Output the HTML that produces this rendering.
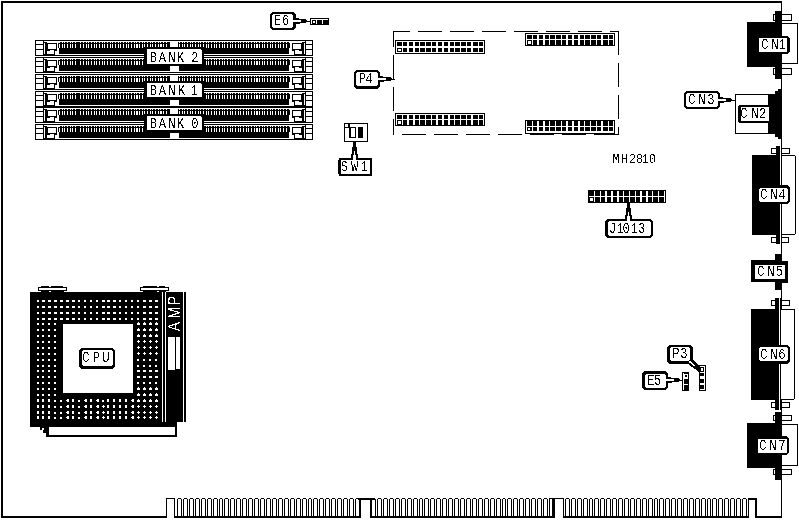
<!DOCTYPE html>
<html lang="en">
<head>
<meta charset="utf-8">
<title>MH2810</title>
<style>
html,body{margin:0;padding:0;background:#fff;}
body{width:799px;height:520px;overflow:hidden;}
svg{display:block;}
</style>
</head>
<body>
<svg width="799" height="520" viewBox="0 0 799 520" shape-rendering="crispEdges">
<defs>
<filter id="bw" x="-5%" y="-20%" width="110%" height="140%" color-interpolation-filters="sRGB"><feComponentTransfer><feFuncA type="discrete" tableValues="0 1"/></feComponentTransfer></filter>
</defs>
<rect x="0" y="0" width="799" height="520" fill="#fff"/>
<rect x="1" y="1" width="2" height="517" fill="#000"/>
<rect x="1" y="1" width="781" height="2" fill="#000"/>
<rect x="781" y="1" width="1" height="517" fill="#000"/>
<rect x="1" y="516" width="166" height="2" fill="#000"/>
<rect x="174" y="516" width="187" height="2" fill="#000"/>
<rect x="370" y="516" width="185" height="2" fill="#000"/>
<rect x="563" y="516" width="186" height="2" fill="#000"/>
<rect x="755" y="516" width="27" height="2" fill="#000"/>
<rect x="166" y="498" width="1" height="20" fill="#000"/>
<rect x="166" y="498" width="9" height="1" fill="#000"/>
<rect x="174" y="498" width="1" height="20" fill="#000"/>
<rect x="359" y="498" width="2" height="20" fill="#000"/>
<rect x="358" y="498" width="17" height="2" fill="#000"/>
<rect x="370" y="498" width="2" height="20" fill="#000"/>
<rect x="552" y="498" width="3" height="20" fill="#000"/>
<rect x="549" y="498" width="15" height="1" fill="#000"/>
<rect x="563" y="498" width="1" height="20" fill="#000"/>
<rect x="748" y="498" width="1" height="20" fill="#000"/>
<rect x="748" y="498" width="9" height="2" fill="#000"/>
<rect x="755" y="498" width="2" height="20" fill="#000"/>
<rect x="177" y="499" width="1" height="17" fill="#000"/>
<rect x="178" y="498" width="3" height="1" fill="#000"/>
<rect x="181" y="499" width="1" height="17" fill="#000"/>
<rect x="183" y="499" width="1" height="17" fill="#000"/>
<rect x="184" y="498" width="3" height="1" fill="#000"/>
<rect x="187" y="499" width="1" height="17" fill="#000"/>
<rect x="189" y="499" width="1" height="17" fill="#000"/>
<rect x="190" y="498" width="3" height="1" fill="#000"/>
<rect x="193" y="499" width="1" height="17" fill="#000"/>
<rect x="195" y="499" width="1" height="17" fill="#000"/>
<rect x="196" y="498" width="3" height="1" fill="#000"/>
<rect x="199" y="499" width="1" height="17" fill="#000"/>
<rect x="201" y="499" width="1" height="17" fill="#000"/>
<rect x="202" y="498" width="3" height="1" fill="#000"/>
<rect x="205" y="499" width="1" height="17" fill="#000"/>
<rect x="207" y="499" width="1" height="17" fill="#000"/>
<rect x="208" y="498" width="3" height="1" fill="#000"/>
<rect x="211" y="499" width="1" height="17" fill="#000"/>
<rect x="213" y="499" width="1" height="17" fill="#000"/>
<rect x="214" y="498" width="3" height="1" fill="#000"/>
<rect x="217" y="499" width="1" height="17" fill="#000"/>
<rect x="219" y="499" width="1" height="17" fill="#000"/>
<rect x="220" y="498" width="2" height="1" fill="#000"/>
<rect x="222" y="499" width="1" height="17" fill="#000"/>
<rect x="224" y="499" width="1" height="17" fill="#000"/>
<rect x="225" y="498" width="3" height="1" fill="#000"/>
<rect x="228" y="499" width="1" height="17" fill="#000"/>
<rect x="230" y="499" width="1" height="17" fill="#000"/>
<rect x="231" y="498" width="3" height="1" fill="#000"/>
<rect x="234" y="499" width="1" height="17" fill="#000"/>
<rect x="236" y="499" width="1" height="17" fill="#000"/>
<rect x="237" y="498" width="3" height="1" fill="#000"/>
<rect x="240" y="499" width="1" height="17" fill="#000"/>
<rect x="242" y="499" width="1" height="17" fill="#000"/>
<rect x="243" y="498" width="3" height="1" fill="#000"/>
<rect x="246" y="499" width="1" height="17" fill="#000"/>
<rect x="248" y="499" width="1" height="17" fill="#000"/>
<rect x="249" y="498" width="3" height="1" fill="#000"/>
<rect x="252" y="499" width="1" height="17" fill="#000"/>
<rect x="254" y="499" width="1" height="17" fill="#000"/>
<rect x="255" y="498" width="3" height="1" fill="#000"/>
<rect x="258" y="499" width="1" height="17" fill="#000"/>
<rect x="260" y="499" width="1" height="17" fill="#000"/>
<rect x="261" y="498" width="3" height="1" fill="#000"/>
<rect x="264" y="499" width="1" height="17" fill="#000"/>
<rect x="266" y="499" width="1" height="17" fill="#000"/>
<rect x="267" y="498" width="3" height="1" fill="#000"/>
<rect x="270" y="499" width="1" height="17" fill="#000"/>
<rect x="272" y="499" width="1" height="17" fill="#000"/>
<rect x="273" y="498" width="3" height="1" fill="#000"/>
<rect x="276" y="499" width="1" height="17" fill="#000"/>
<rect x="278" y="499" width="1" height="17" fill="#000"/>
<rect x="279" y="498" width="3" height="1" fill="#000"/>
<rect x="282" y="499" width="1" height="17" fill="#000"/>
<rect x="284" y="499" width="1" height="17" fill="#000"/>
<rect x="285" y="498" width="3" height="1" fill="#000"/>
<rect x="288" y="499" width="1" height="17" fill="#000"/>
<rect x="290" y="499" width="1" height="17" fill="#000"/>
<rect x="291" y="498" width="3" height="1" fill="#000"/>
<rect x="294" y="499" width="1" height="17" fill="#000"/>
<rect x="296" y="499" width="1" height="17" fill="#000"/>
<rect x="297" y="498" width="3" height="1" fill="#000"/>
<rect x="300" y="499" width="1" height="17" fill="#000"/>
<rect x="302" y="499" width="1" height="17" fill="#000"/>
<rect x="303" y="498" width="3" height="1" fill="#000"/>
<rect x="306" y="499" width="1" height="17" fill="#000"/>
<rect x="308" y="499" width="1" height="17" fill="#000"/>
<rect x="309" y="498" width="2" height="1" fill="#000"/>
<rect x="311" y="499" width="1" height="17" fill="#000"/>
<rect x="313" y="499" width="1" height="17" fill="#000"/>
<rect x="314" y="498" width="3" height="1" fill="#000"/>
<rect x="317" y="499" width="1" height="17" fill="#000"/>
<rect x="319" y="499" width="1" height="17" fill="#000"/>
<rect x="320" y="498" width="3" height="1" fill="#000"/>
<rect x="323" y="499" width="1" height="17" fill="#000"/>
<rect x="325" y="499" width="1" height="17" fill="#000"/>
<rect x="326" y="498" width="3" height="1" fill="#000"/>
<rect x="329" y="499" width="1" height="17" fill="#000"/>
<rect x="331" y="499" width="1" height="17" fill="#000"/>
<rect x="332" y="498" width="3" height="1" fill="#000"/>
<rect x="335" y="499" width="1" height="17" fill="#000"/>
<rect x="337" y="499" width="1" height="17" fill="#000"/>
<rect x="338" y="498" width="3" height="1" fill="#000"/>
<rect x="341" y="499" width="1" height="17" fill="#000"/>
<rect x="343" y="499" width="1" height="17" fill="#000"/>
<rect x="344" y="498" width="3" height="1" fill="#000"/>
<rect x="347" y="499" width="1" height="17" fill="#000"/>
<rect x="349" y="499" width="1" height="17" fill="#000"/>
<rect x="350" y="498" width="3" height="1" fill="#000"/>
<rect x="353" y="499" width="1" height="17" fill="#000"/>
<rect x="355" y="499" width="1" height="17" fill="#000"/>
<rect x="356" y="498" width="3" height="1" fill="#000"/>
<rect x="359" y="499" width="1" height="17" fill="#000"/>
<rect x="371" y="499" width="1" height="17" fill="#000"/>
<rect x="372" y="498" width="3" height="1" fill="#000"/>
<rect x="375" y="499" width="1" height="17" fill="#000"/>
<rect x="377" y="499" width="1" height="17" fill="#000"/>
<rect x="378" y="498" width="3" height="1" fill="#000"/>
<rect x="381" y="499" width="1" height="17" fill="#000"/>
<rect x="383" y="499" width="1" height="17" fill="#000"/>
<rect x="384" y="498" width="3" height="1" fill="#000"/>
<rect x="387" y="499" width="1" height="17" fill="#000"/>
<rect x="389" y="499" width="1" height="17" fill="#000"/>
<rect x="390" y="498" width="3" height="1" fill="#000"/>
<rect x="393" y="499" width="1" height="17" fill="#000"/>
<rect x="395" y="499" width="1" height="17" fill="#000"/>
<rect x="396" y="498" width="3" height="1" fill="#000"/>
<rect x="399" y="499" width="1" height="17" fill="#000"/>
<rect x="401" y="499" width="1" height="17" fill="#000"/>
<rect x="402" y="498" width="3" height="1" fill="#000"/>
<rect x="405" y="499" width="1" height="17" fill="#000"/>
<rect x="407" y="499" width="1" height="17" fill="#000"/>
<rect x="408" y="498" width="3" height="1" fill="#000"/>
<rect x="411" y="499" width="1" height="17" fill="#000"/>
<rect x="413" y="499" width="1" height="17" fill="#000"/>
<rect x="414" y="498" width="3" height="1" fill="#000"/>
<rect x="417" y="499" width="1" height="17" fill="#000"/>
<rect x="419" y="499" width="1" height="17" fill="#000"/>
<rect x="420" y="498" width="2" height="1" fill="#000"/>
<rect x="422" y="499" width="1" height="17" fill="#000"/>
<rect x="424" y="499" width="1" height="17" fill="#000"/>
<rect x="425" y="498" width="3" height="1" fill="#000"/>
<rect x="428" y="499" width="1" height="17" fill="#000"/>
<rect x="430" y="499" width="1" height="17" fill="#000"/>
<rect x="431" y="498" width="3" height="1" fill="#000"/>
<rect x="434" y="499" width="1" height="17" fill="#000"/>
<rect x="436" y="499" width="1" height="17" fill="#000"/>
<rect x="437" y="498" width="3" height="1" fill="#000"/>
<rect x="440" y="499" width="1" height="17" fill="#000"/>
<rect x="442" y="499" width="1" height="17" fill="#000"/>
<rect x="443" y="498" width="3" height="1" fill="#000"/>
<rect x="446" y="499" width="1" height="17" fill="#000"/>
<rect x="448" y="499" width="1" height="17" fill="#000"/>
<rect x="449" y="498" width="3" height="1" fill="#000"/>
<rect x="452" y="499" width="1" height="17" fill="#000"/>
<rect x="454" y="499" width="1" height="17" fill="#000"/>
<rect x="455" y="498" width="3" height="1" fill="#000"/>
<rect x="458" y="499" width="1" height="17" fill="#000"/>
<rect x="460" y="499" width="1" height="17" fill="#000"/>
<rect x="461" y="498" width="3" height="1" fill="#000"/>
<rect x="464" y="499" width="1" height="17" fill="#000"/>
<rect x="466" y="499" width="1" height="17" fill="#000"/>
<rect x="467" y="498" width="3" height="1" fill="#000"/>
<rect x="470" y="499" width="1" height="17" fill="#000"/>
<rect x="472" y="499" width="1" height="17" fill="#000"/>
<rect x="473" y="498" width="3" height="1" fill="#000"/>
<rect x="476" y="499" width="1" height="17" fill="#000"/>
<rect x="478" y="499" width="1" height="17" fill="#000"/>
<rect x="479" y="498" width="3" height="1" fill="#000"/>
<rect x="482" y="499" width="1" height="17" fill="#000"/>
<rect x="484" y="499" width="1" height="17" fill="#000"/>
<rect x="485" y="498" width="3" height="1" fill="#000"/>
<rect x="488" y="499" width="1" height="17" fill="#000"/>
<rect x="490" y="499" width="1" height="17" fill="#000"/>
<rect x="491" y="498" width="3" height="1" fill="#000"/>
<rect x="494" y="499" width="1" height="17" fill="#000"/>
<rect x="496" y="499" width="1" height="17" fill="#000"/>
<rect x="497" y="498" width="3" height="1" fill="#000"/>
<rect x="500" y="499" width="1" height="17" fill="#000"/>
<rect x="502" y="499" width="1" height="17" fill="#000"/>
<rect x="503" y="498" width="2" height="1" fill="#000"/>
<rect x="505" y="499" width="1" height="17" fill="#000"/>
<rect x="507" y="499" width="1" height="17" fill="#000"/>
<rect x="508" y="498" width="3" height="1" fill="#000"/>
<rect x="511" y="499" width="1" height="17" fill="#000"/>
<rect x="513" y="499" width="1" height="17" fill="#000"/>
<rect x="514" y="498" width="3" height="1" fill="#000"/>
<rect x="517" y="499" width="1" height="17" fill="#000"/>
<rect x="519" y="499" width="1" height="17" fill="#000"/>
<rect x="520" y="498" width="3" height="1" fill="#000"/>
<rect x="523" y="499" width="1" height="17" fill="#000"/>
<rect x="525" y="499" width="1" height="17" fill="#000"/>
<rect x="526" y="498" width="3" height="1" fill="#000"/>
<rect x="529" y="499" width="1" height="17" fill="#000"/>
<rect x="531" y="499" width="1" height="17" fill="#000"/>
<rect x="532" y="498" width="3" height="1" fill="#000"/>
<rect x="535" y="499" width="1" height="17" fill="#000"/>
<rect x="537" y="499" width="1" height="17" fill="#000"/>
<rect x="538" y="498" width="3" height="1" fill="#000"/>
<rect x="541" y="499" width="1" height="17" fill="#000"/>
<rect x="543" y="499" width="1" height="17" fill="#000"/>
<rect x="544" y="498" width="3" height="1" fill="#000"/>
<rect x="547" y="499" width="1" height="17" fill="#000"/>
<rect x="549" y="499" width="1" height="17" fill="#000"/>
<rect x="550" y="498" width="3" height="1" fill="#000"/>
<rect x="553" y="499" width="1" height="17" fill="#000"/>
<rect x="565" y="499" width="1" height="17" fill="#000"/>
<rect x="566" y="498" width="3" height="1" fill="#000"/>
<rect x="569" y="499" width="1" height="17" fill="#000"/>
<rect x="571" y="499" width="1" height="17" fill="#000"/>
<rect x="572" y="498" width="3" height="1" fill="#000"/>
<rect x="575" y="499" width="1" height="17" fill="#000"/>
<rect x="577" y="499" width="1" height="17" fill="#000"/>
<rect x="578" y="498" width="3" height="1" fill="#000"/>
<rect x="581" y="499" width="1" height="17" fill="#000"/>
<rect x="583" y="499" width="1" height="17" fill="#000"/>
<rect x="584" y="498" width="3" height="1" fill="#000"/>
<rect x="587" y="499" width="1" height="17" fill="#000"/>
<rect x="589" y="499" width="1" height="17" fill="#000"/>
<rect x="590" y="498" width="2" height="1" fill="#000"/>
<rect x="592" y="499" width="1" height="17" fill="#000"/>
<rect x="594" y="499" width="1" height="17" fill="#000"/>
<rect x="595" y="498" width="3" height="1" fill="#000"/>
<rect x="598" y="499" width="1" height="17" fill="#000"/>
<rect x="600" y="499" width="1" height="17" fill="#000"/>
<rect x="601" y="498" width="3" height="1" fill="#000"/>
<rect x="604" y="499" width="1" height="17" fill="#000"/>
<rect x="606" y="499" width="1" height="17" fill="#000"/>
<rect x="607" y="498" width="3" height="1" fill="#000"/>
<rect x="610" y="499" width="1" height="17" fill="#000"/>
<rect x="612" y="499" width="1" height="17" fill="#000"/>
<rect x="613" y="498" width="3" height="1" fill="#000"/>
<rect x="616" y="499" width="1" height="17" fill="#000"/>
<rect x="618" y="499" width="1" height="17" fill="#000"/>
<rect x="619" y="498" width="3" height="1" fill="#000"/>
<rect x="622" y="499" width="1" height="17" fill="#000"/>
<rect x="624" y="499" width="1" height="17" fill="#000"/>
<rect x="625" y="498" width="3" height="1" fill="#000"/>
<rect x="628" y="499" width="1" height="17" fill="#000"/>
<rect x="630" y="499" width="1" height="17" fill="#000"/>
<rect x="631" y="498" width="3" height="1" fill="#000"/>
<rect x="634" y="499" width="1" height="17" fill="#000"/>
<rect x="636" y="499" width="1" height="17" fill="#000"/>
<rect x="637" y="498" width="3" height="1" fill="#000"/>
<rect x="640" y="499" width="1" height="17" fill="#000"/>
<rect x="642" y="499" width="1" height="17" fill="#000"/>
<rect x="643" y="498" width="3" height="1" fill="#000"/>
<rect x="646" y="499" width="1" height="17" fill="#000"/>
<rect x="648" y="499" width="1" height="17" fill="#000"/>
<rect x="649" y="498" width="3" height="1" fill="#000"/>
<rect x="652" y="499" width="1" height="17" fill="#000"/>
<rect x="654" y="499" width="1" height="17" fill="#000"/>
<rect x="655" y="498" width="2" height="1" fill="#000"/>
<rect x="657" y="499" width="1" height="17" fill="#000"/>
<rect x="659" y="499" width="1" height="17" fill="#000"/>
<rect x="660" y="498" width="3" height="1" fill="#000"/>
<rect x="663" y="499" width="1" height="17" fill="#000"/>
<rect x="665" y="499" width="1" height="17" fill="#000"/>
<rect x="666" y="498" width="3" height="1" fill="#000"/>
<rect x="669" y="499" width="1" height="17" fill="#000"/>
<rect x="671" y="499" width="1" height="17" fill="#000"/>
<rect x="672" y="498" width="3" height="1" fill="#000"/>
<rect x="675" y="499" width="1" height="17" fill="#000"/>
<rect x="677" y="499" width="1" height="17" fill="#000"/>
<rect x="678" y="498" width="3" height="1" fill="#000"/>
<rect x="681" y="499" width="1" height="17" fill="#000"/>
<rect x="683" y="499" width="1" height="17" fill="#000"/>
<rect x="684" y="498" width="3" height="1" fill="#000"/>
<rect x="687" y="499" width="1" height="17" fill="#000"/>
<rect x="689" y="499" width="1" height="17" fill="#000"/>
<rect x="690" y="498" width="3" height="1" fill="#000"/>
<rect x="693" y="499" width="1" height="17" fill="#000"/>
<rect x="695" y="499" width="1" height="17" fill="#000"/>
<rect x="696" y="498" width="3" height="1" fill="#000"/>
<rect x="699" y="499" width="1" height="17" fill="#000"/>
<rect x="701" y="499" width="1" height="17" fill="#000"/>
<rect x="702" y="498" width="3" height="1" fill="#000"/>
<rect x="705" y="499" width="1" height="17" fill="#000"/>
<rect x="707" y="499" width="1" height="17" fill="#000"/>
<rect x="708" y="498" width="2" height="1" fill="#000"/>
<rect x="710" y="499" width="1" height="17" fill="#000"/>
<rect x="712" y="499" width="1" height="17" fill="#000"/>
<rect x="713" y="498" width="3" height="1" fill="#000"/>
<rect x="716" y="499" width="1" height="17" fill="#000"/>
<rect x="718" y="499" width="1" height="17" fill="#000"/>
<rect x="719" y="498" width="3" height="1" fill="#000"/>
<rect x="722" y="499" width="1" height="17" fill="#000"/>
<rect x="724" y="499" width="1" height="17" fill="#000"/>
<rect x="725" y="498" width="3" height="1" fill="#000"/>
<rect x="728" y="499" width="1" height="17" fill="#000"/>
<rect x="730" y="499" width="1" height="17" fill="#000"/>
<rect x="731" y="498" width="3" height="1" fill="#000"/>
<rect x="734" y="499" width="1" height="17" fill="#000"/>
<rect x="736" y="499" width="1" height="17" fill="#000"/>
<rect x="737" y="498" width="3" height="1" fill="#000"/>
<rect x="740" y="499" width="1" height="17" fill="#000"/>
<rect x="742" y="499" width="1" height="17" fill="#000"/>
<rect x="743" y="498" width="3" height="1" fill="#000"/>
<rect x="746" y="499" width="1" height="17" fill="#000"/>
<rect x="35" y="40" width="278" height="16" fill="#000"/>
<rect x="36" y="41" width="276" height="14" fill="#fff"/>
<rect x="43" y="40" width="1" height="16" fill="#000"/>
<rect x="36" y="44" width="7" height="1" fill="#000"/>
<rect x="36" y="49" width="7" height="1" fill="#000"/>
<rect x="44" y="42" width="3" height="1" fill="#000"/>
<rect x="45" y="42" width="2" height="13" fill="#000"/>
<rect x="44" y="54" width="3" height="1" fill="#000"/>
<rect x="47" y="43" width="10" height="8" fill="#000"/>
<rect x="48" y="44" width="8" height="5" fill="#fff"/>
<rect x="47" y="49" width="8" height="6" fill="#000"/>
<rect x="50" y="50" width="4" height="1" fill="#fff"/>
<rect x="47" y="51" width="7" height="3" fill="#fff"/>
<rect x="305" y="40" width="1" height="16" fill="#000"/>
<rect x="306" y="44" width="7" height="1" fill="#000"/>
<rect x="306" y="49" width="7" height="1" fill="#000"/>
<rect x="302" y="42" width="3" height="1" fill="#000"/>
<rect x="302" y="42" width="2" height="13" fill="#000"/>
<rect x="302" y="54" width="3" height="1" fill="#000"/>
<rect x="292" y="43" width="10" height="8" fill="#000"/>
<rect x="293" y="44" width="8" height="5" fill="#fff"/>
<rect x="294" y="49" width="8" height="6" fill="#000"/>
<rect x="295" y="50" width="4" height="1" fill="#fff"/>
<rect x="295" y="51" width="7" height="3" fill="#fff"/>
<rect x="58" y="43" width="232" height="5" fill="#000"/>
<rect x="60" y="42" width="229" height="1" fill="#000"/>
<rect x="59" y="48" width="230" height="6" fill="#000"/>
<rect x="59" y="44" width="1" height="4" fill="#fff"/>
<rect x="59" y="42" width="1" height="1" fill="#fff"/>
<rect x="62" y="44" width="1" height="4" fill="#fff"/>
<rect x="62" y="42" width="1" height="1" fill="#fff"/>
<rect x="64" y="44" width="1" height="4" fill="#fff"/>
<rect x="64" y="42" width="1" height="1" fill="#fff"/>
<rect x="67" y="44" width="1" height="4" fill="#fff"/>
<rect x="67" y="42" width="1" height="1" fill="#fff"/>
<rect x="70" y="44" width="1" height="4" fill="#fff"/>
<rect x="70" y="42" width="1" height="1" fill="#fff"/>
<rect x="72" y="44" width="1" height="4" fill="#fff"/>
<rect x="72" y="42" width="1" height="1" fill="#fff"/>
<rect x="75" y="44" width="1" height="4" fill="#fff"/>
<rect x="75" y="42" width="1" height="1" fill="#fff"/>
<rect x="80" y="44" width="1" height="4" fill="#fff"/>
<rect x="80" y="42" width="1" height="1" fill="#fff"/>
<rect x="83" y="44" width="1" height="4" fill="#fff"/>
<rect x="83" y="42" width="1" height="1" fill="#fff"/>
<rect x="86" y="44" width="1" height="4" fill="#fff"/>
<rect x="86" y="42" width="1" height="1" fill="#fff"/>
<rect x="88" y="44" width="1" height="4" fill="#fff"/>
<rect x="88" y="42" width="1" height="1" fill="#fff"/>
<rect x="91" y="44" width="1" height="4" fill="#fff"/>
<rect x="91" y="42" width="1" height="1" fill="#fff"/>
<rect x="94" y="44" width="1" height="4" fill="#fff"/>
<rect x="94" y="42" width="1" height="1" fill="#fff"/>
<rect x="96" y="44" width="1" height="4" fill="#fff"/>
<rect x="96" y="42" width="1" height="1" fill="#fff"/>
<rect x="99" y="44" width="1" height="4" fill="#fff"/>
<rect x="99" y="42" width="1" height="1" fill="#fff"/>
<rect x="102" y="44" width="1" height="4" fill="#fff"/>
<rect x="102" y="42" width="1" height="1" fill="#fff"/>
<rect x="104" y="44" width="1" height="4" fill="#fff"/>
<rect x="104" y="42" width="1" height="1" fill="#fff"/>
<rect x="107" y="44" width="1" height="4" fill="#fff"/>
<rect x="107" y="42" width="1" height="1" fill="#fff"/>
<rect x="110" y="44" width="1" height="4" fill="#fff"/>
<rect x="110" y="42" width="1" height="1" fill="#fff"/>
<rect x="112" y="44" width="1" height="4" fill="#fff"/>
<rect x="112" y="42" width="1" height="1" fill="#fff"/>
<rect x="115" y="44" width="1" height="4" fill="#fff"/>
<rect x="115" y="42" width="1" height="1" fill="#fff"/>
<rect x="118" y="44" width="1" height="4" fill="#fff"/>
<rect x="118" y="42" width="1" height="1" fill="#fff"/>
<rect x="120" y="44" width="1" height="4" fill="#fff"/>
<rect x="120" y="42" width="1" height="1" fill="#fff"/>
<rect x="123" y="44" width="1" height="4" fill="#fff"/>
<rect x="123" y="42" width="1" height="1" fill="#fff"/>
<rect x="126" y="44" width="1" height="4" fill="#fff"/>
<rect x="126" y="42" width="1" height="1" fill="#fff"/>
<rect x="128" y="44" width="1" height="4" fill="#fff"/>
<rect x="128" y="42" width="1" height="1" fill="#fff"/>
<rect x="131" y="44" width="1" height="4" fill="#fff"/>
<rect x="131" y="42" width="1" height="1" fill="#fff"/>
<rect x="134" y="44" width="1" height="4" fill="#fff"/>
<rect x="134" y="42" width="1" height="1" fill="#fff"/>
<rect x="136" y="44" width="2" height="4" fill="#fff"/>
<rect x="136" y="42" width="1" height="1" fill="#fff"/>
<rect x="139" y="44" width="1" height="4" fill="#fff"/>
<rect x="139" y="42" width="1" height="1" fill="#fff"/>
<rect x="142" y="44" width="1" height="4" fill="#fff"/>
<rect x="142" y="42" width="1" height="1" fill="#fff"/>
<rect x="144" y="44" width="1" height="4" fill="#fff"/>
<rect x="144" y="42" width="1" height="1" fill="#fff"/>
<rect x="147" y="44" width="1" height="4" fill="#fff"/>
<rect x="147" y="42" width="1" height="1" fill="#fff"/>
<rect x="150" y="44" width="1" height="4" fill="#fff"/>
<rect x="150" y="42" width="1" height="1" fill="#fff"/>
<rect x="152" y="44" width="1" height="4" fill="#fff"/>
<rect x="152" y="42" width="1" height="1" fill="#fff"/>
<rect x="155" y="44" width="1" height="4" fill="#fff"/>
<rect x="155" y="42" width="1" height="1" fill="#fff"/>
<rect x="158" y="44" width="1" height="4" fill="#fff"/>
<rect x="158" y="42" width="1" height="1" fill="#fff"/>
<rect x="160" y="44" width="2" height="4" fill="#fff"/>
<rect x="160" y="42" width="1" height="1" fill="#fff"/>
<rect x="163" y="44" width="1" height="4" fill="#fff"/>
<rect x="163" y="42" width="1" height="1" fill="#fff"/>
<rect x="166" y="44" width="1" height="4" fill="#fff"/>
<rect x="166" y="42" width="1" height="1" fill="#fff"/>
<rect x="179" y="44" width="1" height="4" fill="#fff"/>
<rect x="179" y="42" width="1" height="1" fill="#fff"/>
<rect x="182" y="44" width="1" height="4" fill="#fff"/>
<rect x="182" y="42" width="1" height="1" fill="#fff"/>
<rect x="184" y="44" width="1" height="4" fill="#fff"/>
<rect x="184" y="42" width="1" height="1" fill="#fff"/>
<rect x="187" y="44" width="1" height="4" fill="#fff"/>
<rect x="187" y="42" width="1" height="1" fill="#fff"/>
<rect x="190" y="44" width="1" height="4" fill="#fff"/>
<rect x="190" y="42" width="1" height="1" fill="#fff"/>
<rect x="192" y="44" width="1" height="4" fill="#fff"/>
<rect x="192" y="42" width="1" height="1" fill="#fff"/>
<rect x="195" y="44" width="1" height="4" fill="#fff"/>
<rect x="195" y="42" width="1" height="1" fill="#fff"/>
<rect x="198" y="44" width="1" height="4" fill="#fff"/>
<rect x="198" y="42" width="1" height="1" fill="#fff"/>
<rect x="200" y="44" width="1" height="4" fill="#fff"/>
<rect x="200" y="42" width="1" height="1" fill="#fff"/>
<rect x="203" y="44" width="1" height="4" fill="#fff"/>
<rect x="203" y="42" width="1" height="1" fill="#fff"/>
<rect x="206" y="44" width="1" height="4" fill="#fff"/>
<rect x="206" y="42" width="1" height="1" fill="#fff"/>
<rect x="208" y="44" width="1" height="4" fill="#fff"/>
<rect x="208" y="42" width="1" height="1" fill="#fff"/>
<rect x="211" y="44" width="1" height="4" fill="#fff"/>
<rect x="211" y="42" width="1" height="1" fill="#fff"/>
<rect x="214" y="44" width="1" height="4" fill="#fff"/>
<rect x="214" y="42" width="1" height="1" fill="#fff"/>
<rect x="216" y="44" width="1" height="4" fill="#fff"/>
<rect x="216" y="42" width="1" height="1" fill="#fff"/>
<rect x="219" y="44" width="1" height="4" fill="#fff"/>
<rect x="219" y="42" width="1" height="1" fill="#fff"/>
<rect x="222" y="44" width="1" height="4" fill="#fff"/>
<rect x="222" y="42" width="1" height="1" fill="#fff"/>
<rect x="224" y="44" width="1" height="4" fill="#fff"/>
<rect x="224" y="42" width="1" height="1" fill="#fff"/>
<rect x="227" y="44" width="1" height="4" fill="#fff"/>
<rect x="227" y="42" width="1" height="1" fill="#fff"/>
<rect x="230" y="44" width="1" height="4" fill="#fff"/>
<rect x="230" y="42" width="1" height="1" fill="#fff"/>
<rect x="232" y="44" width="1" height="4" fill="#fff"/>
<rect x="232" y="42" width="1" height="1" fill="#fff"/>
<rect x="235" y="44" width="1" height="4" fill="#fff"/>
<rect x="235" y="42" width="1" height="1" fill="#fff"/>
<rect x="238" y="44" width="1" height="4" fill="#fff"/>
<rect x="238" y="42" width="1" height="1" fill="#fff"/>
<rect x="240" y="44" width="1" height="4" fill="#fff"/>
<rect x="240" y="42" width="1" height="1" fill="#fff"/>
<rect x="243" y="44" width="1" height="4" fill="#fff"/>
<rect x="243" y="42" width="1" height="1" fill="#fff"/>
<rect x="246" y="44" width="1" height="4" fill="#fff"/>
<rect x="246" y="42" width="1" height="1" fill="#fff"/>
<rect x="248" y="44" width="1" height="4" fill="#fff"/>
<rect x="248" y="42" width="1" height="1" fill="#fff"/>
<rect x="251" y="44" width="1" height="4" fill="#fff"/>
<rect x="251" y="42" width="1" height="1" fill="#fff"/>
<rect x="254" y="44" width="1" height="4" fill="#fff"/>
<rect x="254" y="42" width="1" height="1" fill="#fff"/>
<rect x="256" y="44" width="2" height="4" fill="#fff"/>
<rect x="256" y="42" width="1" height="1" fill="#fff"/>
<rect x="259" y="44" width="1" height="4" fill="#fff"/>
<rect x="259" y="42" width="1" height="1" fill="#fff"/>
<rect x="262" y="44" width="1" height="4" fill="#fff"/>
<rect x="262" y="42" width="1" height="1" fill="#fff"/>
<rect x="264" y="44" width="1" height="4" fill="#fff"/>
<rect x="264" y="42" width="1" height="1" fill="#fff"/>
<rect x="267" y="44" width="1" height="4" fill="#fff"/>
<rect x="267" y="42" width="1" height="1" fill="#fff"/>
<rect x="270" y="44" width="1" height="4" fill="#fff"/>
<rect x="270" y="42" width="1" height="1" fill="#fff"/>
<rect x="272" y="44" width="1" height="4" fill="#fff"/>
<rect x="272" y="42" width="1" height="1" fill="#fff"/>
<rect x="275" y="44" width="1" height="4" fill="#fff"/>
<rect x="275" y="42" width="1" height="1" fill="#fff"/>
<rect x="278" y="44" width="1" height="4" fill="#fff"/>
<rect x="278" y="42" width="1" height="1" fill="#fff"/>
<rect x="280" y="44" width="1" height="4" fill="#fff"/>
<rect x="280" y="42" width="1" height="1" fill="#fff"/>
<rect x="283" y="44" width="1" height="4" fill="#fff"/>
<rect x="283" y="42" width="1" height="1" fill="#fff"/>
<rect x="286" y="44" width="1" height="4" fill="#fff"/>
<rect x="286" y="42" width="1" height="1" fill="#fff"/>
<rect x="170" y="42" width="8" height="5" fill="#fff"/>
<rect x="170" y="49" width="9" height="5" fill="#fff"/>
<rect x="35" y="57" width="278" height="16" fill="#000"/>
<rect x="36" y="58" width="276" height="14" fill="#fff"/>
<rect x="43" y="57" width="1" height="16" fill="#000"/>
<rect x="36" y="61" width="7" height="1" fill="#000"/>
<rect x="36" y="66" width="7" height="1" fill="#000"/>
<rect x="44" y="59" width="3" height="1" fill="#000"/>
<rect x="45" y="59" width="2" height="13" fill="#000"/>
<rect x="44" y="71" width="3" height="1" fill="#000"/>
<rect x="47" y="60" width="10" height="8" fill="#000"/>
<rect x="48" y="61" width="8" height="5" fill="#fff"/>
<rect x="47" y="66" width="8" height="6" fill="#000"/>
<rect x="50" y="67" width="4" height="1" fill="#fff"/>
<rect x="47" y="68" width="7" height="3" fill="#fff"/>
<rect x="305" y="57" width="1" height="16" fill="#000"/>
<rect x="306" y="61" width="7" height="1" fill="#000"/>
<rect x="306" y="66" width="7" height="1" fill="#000"/>
<rect x="302" y="59" width="3" height="1" fill="#000"/>
<rect x="302" y="59" width="2" height="13" fill="#000"/>
<rect x="302" y="71" width="3" height="1" fill="#000"/>
<rect x="292" y="60" width="10" height="8" fill="#000"/>
<rect x="293" y="61" width="8" height="5" fill="#fff"/>
<rect x="294" y="66" width="8" height="6" fill="#000"/>
<rect x="295" y="67" width="4" height="1" fill="#fff"/>
<rect x="295" y="68" width="7" height="3" fill="#fff"/>
<rect x="58" y="60" width="232" height="5" fill="#000"/>
<rect x="60" y="59" width="229" height="1" fill="#000"/>
<rect x="59" y="65" width="230" height="6" fill="#000"/>
<rect x="59" y="61" width="1" height="4" fill="#fff"/>
<rect x="59" y="59" width="1" height="1" fill="#fff"/>
<rect x="62" y="61" width="1" height="4" fill="#fff"/>
<rect x="62" y="59" width="1" height="1" fill="#fff"/>
<rect x="64" y="61" width="1" height="4" fill="#fff"/>
<rect x="64" y="59" width="1" height="1" fill="#fff"/>
<rect x="67" y="61" width="1" height="4" fill="#fff"/>
<rect x="67" y="59" width="1" height="1" fill="#fff"/>
<rect x="70" y="61" width="1" height="4" fill="#fff"/>
<rect x="70" y="59" width="1" height="1" fill="#fff"/>
<rect x="72" y="61" width="1" height="4" fill="#fff"/>
<rect x="72" y="59" width="1" height="1" fill="#fff"/>
<rect x="75" y="61" width="1" height="4" fill="#fff"/>
<rect x="75" y="59" width="1" height="1" fill="#fff"/>
<rect x="80" y="61" width="1" height="4" fill="#fff"/>
<rect x="80" y="59" width="1" height="1" fill="#fff"/>
<rect x="83" y="61" width="1" height="4" fill="#fff"/>
<rect x="83" y="59" width="1" height="1" fill="#fff"/>
<rect x="86" y="61" width="1" height="4" fill="#fff"/>
<rect x="86" y="59" width="1" height="1" fill="#fff"/>
<rect x="88" y="61" width="1" height="4" fill="#fff"/>
<rect x="88" y="59" width="1" height="1" fill="#fff"/>
<rect x="91" y="61" width="1" height="4" fill="#fff"/>
<rect x="91" y="59" width="1" height="1" fill="#fff"/>
<rect x="94" y="61" width="1" height="4" fill="#fff"/>
<rect x="94" y="59" width="1" height="1" fill="#fff"/>
<rect x="96" y="61" width="1" height="4" fill="#fff"/>
<rect x="96" y="59" width="1" height="1" fill="#fff"/>
<rect x="99" y="61" width="1" height="4" fill="#fff"/>
<rect x="99" y="59" width="1" height="1" fill="#fff"/>
<rect x="102" y="61" width="1" height="4" fill="#fff"/>
<rect x="102" y="59" width="1" height="1" fill="#fff"/>
<rect x="104" y="61" width="1" height="4" fill="#fff"/>
<rect x="104" y="59" width="1" height="1" fill="#fff"/>
<rect x="107" y="61" width="1" height="4" fill="#fff"/>
<rect x="107" y="59" width="1" height="1" fill="#fff"/>
<rect x="110" y="61" width="1" height="4" fill="#fff"/>
<rect x="110" y="59" width="1" height="1" fill="#fff"/>
<rect x="112" y="61" width="1" height="4" fill="#fff"/>
<rect x="112" y="59" width="1" height="1" fill="#fff"/>
<rect x="115" y="61" width="1" height="4" fill="#fff"/>
<rect x="115" y="59" width="1" height="1" fill="#fff"/>
<rect x="118" y="61" width="1" height="4" fill="#fff"/>
<rect x="118" y="59" width="1" height="1" fill="#fff"/>
<rect x="120" y="61" width="1" height="4" fill="#fff"/>
<rect x="120" y="59" width="1" height="1" fill="#fff"/>
<rect x="123" y="61" width="1" height="4" fill="#fff"/>
<rect x="123" y="59" width="1" height="1" fill="#fff"/>
<rect x="126" y="61" width="1" height="4" fill="#fff"/>
<rect x="126" y="59" width="1" height="1" fill="#fff"/>
<rect x="128" y="61" width="1" height="4" fill="#fff"/>
<rect x="128" y="59" width="1" height="1" fill="#fff"/>
<rect x="131" y="61" width="1" height="4" fill="#fff"/>
<rect x="131" y="59" width="1" height="1" fill="#fff"/>
<rect x="134" y="61" width="1" height="4" fill="#fff"/>
<rect x="134" y="59" width="1" height="1" fill="#fff"/>
<rect x="136" y="61" width="2" height="4" fill="#fff"/>
<rect x="136" y="59" width="1" height="1" fill="#fff"/>
<rect x="139" y="61" width="1" height="4" fill="#fff"/>
<rect x="139" y="59" width="1" height="1" fill="#fff"/>
<rect x="142" y="61" width="1" height="4" fill="#fff"/>
<rect x="142" y="59" width="1" height="1" fill="#fff"/>
<rect x="144" y="61" width="1" height="4" fill="#fff"/>
<rect x="144" y="59" width="1" height="1" fill="#fff"/>
<rect x="147" y="61" width="1" height="4" fill="#fff"/>
<rect x="147" y="59" width="1" height="1" fill="#fff"/>
<rect x="150" y="61" width="1" height="4" fill="#fff"/>
<rect x="150" y="59" width="1" height="1" fill="#fff"/>
<rect x="152" y="61" width="1" height="4" fill="#fff"/>
<rect x="152" y="59" width="1" height="1" fill="#fff"/>
<rect x="155" y="61" width="1" height="4" fill="#fff"/>
<rect x="155" y="59" width="1" height="1" fill="#fff"/>
<rect x="158" y="61" width="1" height="4" fill="#fff"/>
<rect x="158" y="59" width="1" height="1" fill="#fff"/>
<rect x="160" y="61" width="2" height="4" fill="#fff"/>
<rect x="160" y="59" width="1" height="1" fill="#fff"/>
<rect x="163" y="61" width="1" height="4" fill="#fff"/>
<rect x="163" y="59" width="1" height="1" fill="#fff"/>
<rect x="166" y="61" width="1" height="4" fill="#fff"/>
<rect x="166" y="59" width="1" height="1" fill="#fff"/>
<rect x="179" y="61" width="1" height="4" fill="#fff"/>
<rect x="179" y="59" width="1" height="1" fill="#fff"/>
<rect x="182" y="61" width="1" height="4" fill="#fff"/>
<rect x="182" y="59" width="1" height="1" fill="#fff"/>
<rect x="184" y="61" width="1" height="4" fill="#fff"/>
<rect x="184" y="59" width="1" height="1" fill="#fff"/>
<rect x="187" y="61" width="1" height="4" fill="#fff"/>
<rect x="187" y="59" width="1" height="1" fill="#fff"/>
<rect x="190" y="61" width="1" height="4" fill="#fff"/>
<rect x="190" y="59" width="1" height="1" fill="#fff"/>
<rect x="192" y="61" width="1" height="4" fill="#fff"/>
<rect x="192" y="59" width="1" height="1" fill="#fff"/>
<rect x="195" y="61" width="1" height="4" fill="#fff"/>
<rect x="195" y="59" width="1" height="1" fill="#fff"/>
<rect x="198" y="61" width="1" height="4" fill="#fff"/>
<rect x="198" y="59" width="1" height="1" fill="#fff"/>
<rect x="200" y="61" width="1" height="4" fill="#fff"/>
<rect x="200" y="59" width="1" height="1" fill="#fff"/>
<rect x="203" y="61" width="1" height="4" fill="#fff"/>
<rect x="203" y="59" width="1" height="1" fill="#fff"/>
<rect x="206" y="61" width="1" height="4" fill="#fff"/>
<rect x="206" y="59" width="1" height="1" fill="#fff"/>
<rect x="208" y="61" width="1" height="4" fill="#fff"/>
<rect x="208" y="59" width="1" height="1" fill="#fff"/>
<rect x="211" y="61" width="1" height="4" fill="#fff"/>
<rect x="211" y="59" width="1" height="1" fill="#fff"/>
<rect x="214" y="61" width="1" height="4" fill="#fff"/>
<rect x="214" y="59" width="1" height="1" fill="#fff"/>
<rect x="216" y="61" width="1" height="4" fill="#fff"/>
<rect x="216" y="59" width="1" height="1" fill="#fff"/>
<rect x="219" y="61" width="1" height="4" fill="#fff"/>
<rect x="219" y="59" width="1" height="1" fill="#fff"/>
<rect x="222" y="61" width="1" height="4" fill="#fff"/>
<rect x="222" y="59" width="1" height="1" fill="#fff"/>
<rect x="224" y="61" width="1" height="4" fill="#fff"/>
<rect x="224" y="59" width="1" height="1" fill="#fff"/>
<rect x="227" y="61" width="1" height="4" fill="#fff"/>
<rect x="227" y="59" width="1" height="1" fill="#fff"/>
<rect x="230" y="61" width="1" height="4" fill="#fff"/>
<rect x="230" y="59" width="1" height="1" fill="#fff"/>
<rect x="232" y="61" width="1" height="4" fill="#fff"/>
<rect x="232" y="59" width="1" height="1" fill="#fff"/>
<rect x="235" y="61" width="1" height="4" fill="#fff"/>
<rect x="235" y="59" width="1" height="1" fill="#fff"/>
<rect x="238" y="61" width="1" height="4" fill="#fff"/>
<rect x="238" y="59" width="1" height="1" fill="#fff"/>
<rect x="240" y="61" width="1" height="4" fill="#fff"/>
<rect x="240" y="59" width="1" height="1" fill="#fff"/>
<rect x="243" y="61" width="1" height="4" fill="#fff"/>
<rect x="243" y="59" width="1" height="1" fill="#fff"/>
<rect x="246" y="61" width="1" height="4" fill="#fff"/>
<rect x="246" y="59" width="1" height="1" fill="#fff"/>
<rect x="248" y="61" width="1" height="4" fill="#fff"/>
<rect x="248" y="59" width="1" height="1" fill="#fff"/>
<rect x="251" y="61" width="1" height="4" fill="#fff"/>
<rect x="251" y="59" width="1" height="1" fill="#fff"/>
<rect x="254" y="61" width="1" height="4" fill="#fff"/>
<rect x="254" y="59" width="1" height="1" fill="#fff"/>
<rect x="256" y="61" width="2" height="4" fill="#fff"/>
<rect x="256" y="59" width="1" height="1" fill="#fff"/>
<rect x="259" y="61" width="1" height="4" fill="#fff"/>
<rect x="259" y="59" width="1" height="1" fill="#fff"/>
<rect x="262" y="61" width="1" height="4" fill="#fff"/>
<rect x="262" y="59" width="1" height="1" fill="#fff"/>
<rect x="264" y="61" width="1" height="4" fill="#fff"/>
<rect x="264" y="59" width="1" height="1" fill="#fff"/>
<rect x="267" y="61" width="1" height="4" fill="#fff"/>
<rect x="267" y="59" width="1" height="1" fill="#fff"/>
<rect x="270" y="61" width="1" height="4" fill="#fff"/>
<rect x="270" y="59" width="1" height="1" fill="#fff"/>
<rect x="272" y="61" width="1" height="4" fill="#fff"/>
<rect x="272" y="59" width="1" height="1" fill="#fff"/>
<rect x="275" y="61" width="1" height="4" fill="#fff"/>
<rect x="275" y="59" width="1" height="1" fill="#fff"/>
<rect x="278" y="61" width="1" height="4" fill="#fff"/>
<rect x="278" y="59" width="1" height="1" fill="#fff"/>
<rect x="280" y="61" width="1" height="4" fill="#fff"/>
<rect x="280" y="59" width="1" height="1" fill="#fff"/>
<rect x="283" y="61" width="1" height="4" fill="#fff"/>
<rect x="283" y="59" width="1" height="1" fill="#fff"/>
<rect x="286" y="61" width="1" height="4" fill="#fff"/>
<rect x="286" y="59" width="1" height="1" fill="#fff"/>
<rect x="170" y="59" width="8" height="5" fill="#fff"/>
<rect x="170" y="66" width="9" height="5" fill="#fff"/>
<rect x="35" y="74" width="278" height="16" fill="#000"/>
<rect x="36" y="75" width="276" height="14" fill="#fff"/>
<rect x="43" y="74" width="1" height="16" fill="#000"/>
<rect x="36" y="78" width="7" height="1" fill="#000"/>
<rect x="36" y="83" width="7" height="1" fill="#000"/>
<rect x="44" y="76" width="3" height="1" fill="#000"/>
<rect x="45" y="76" width="2" height="13" fill="#000"/>
<rect x="44" y="88" width="3" height="1" fill="#000"/>
<rect x="47" y="77" width="10" height="8" fill="#000"/>
<rect x="48" y="78" width="8" height="5" fill="#fff"/>
<rect x="47" y="83" width="8" height="6" fill="#000"/>
<rect x="50" y="84" width="4" height="1" fill="#fff"/>
<rect x="47" y="85" width="7" height="3" fill="#fff"/>
<rect x="305" y="74" width="1" height="16" fill="#000"/>
<rect x="306" y="78" width="7" height="1" fill="#000"/>
<rect x="306" y="83" width="7" height="1" fill="#000"/>
<rect x="302" y="76" width="3" height="1" fill="#000"/>
<rect x="302" y="76" width="2" height="13" fill="#000"/>
<rect x="302" y="88" width="3" height="1" fill="#000"/>
<rect x="292" y="77" width="10" height="8" fill="#000"/>
<rect x="293" y="78" width="8" height="5" fill="#fff"/>
<rect x="294" y="83" width="8" height="6" fill="#000"/>
<rect x="295" y="84" width="4" height="1" fill="#fff"/>
<rect x="295" y="85" width="7" height="3" fill="#fff"/>
<rect x="58" y="77" width="232" height="5" fill="#000"/>
<rect x="60" y="76" width="229" height="1" fill="#000"/>
<rect x="59" y="82" width="230" height="6" fill="#000"/>
<rect x="59" y="78" width="1" height="4" fill="#fff"/>
<rect x="59" y="76" width="1" height="1" fill="#fff"/>
<rect x="62" y="78" width="1" height="4" fill="#fff"/>
<rect x="62" y="76" width="1" height="1" fill="#fff"/>
<rect x="64" y="78" width="1" height="4" fill="#fff"/>
<rect x="64" y="76" width="1" height="1" fill="#fff"/>
<rect x="67" y="78" width="1" height="4" fill="#fff"/>
<rect x="67" y="76" width="1" height="1" fill="#fff"/>
<rect x="70" y="78" width="1" height="4" fill="#fff"/>
<rect x="70" y="76" width="1" height="1" fill="#fff"/>
<rect x="72" y="78" width="1" height="4" fill="#fff"/>
<rect x="72" y="76" width="1" height="1" fill="#fff"/>
<rect x="75" y="78" width="1" height="4" fill="#fff"/>
<rect x="75" y="76" width="1" height="1" fill="#fff"/>
<rect x="80" y="78" width="1" height="4" fill="#fff"/>
<rect x="80" y="76" width="1" height="1" fill="#fff"/>
<rect x="83" y="78" width="1" height="4" fill="#fff"/>
<rect x="83" y="76" width="1" height="1" fill="#fff"/>
<rect x="86" y="78" width="1" height="4" fill="#fff"/>
<rect x="86" y="76" width="1" height="1" fill="#fff"/>
<rect x="88" y="78" width="1" height="4" fill="#fff"/>
<rect x="88" y="76" width="1" height="1" fill="#fff"/>
<rect x="91" y="78" width="1" height="4" fill="#fff"/>
<rect x="91" y="76" width="1" height="1" fill="#fff"/>
<rect x="94" y="78" width="1" height="4" fill="#fff"/>
<rect x="94" y="76" width="1" height="1" fill="#fff"/>
<rect x="96" y="78" width="1" height="4" fill="#fff"/>
<rect x="96" y="76" width="1" height="1" fill="#fff"/>
<rect x="99" y="78" width="1" height="4" fill="#fff"/>
<rect x="99" y="76" width="1" height="1" fill="#fff"/>
<rect x="102" y="78" width="1" height="4" fill="#fff"/>
<rect x="102" y="76" width="1" height="1" fill="#fff"/>
<rect x="104" y="78" width="1" height="4" fill="#fff"/>
<rect x="104" y="76" width="1" height="1" fill="#fff"/>
<rect x="107" y="78" width="1" height="4" fill="#fff"/>
<rect x="107" y="76" width="1" height="1" fill="#fff"/>
<rect x="110" y="78" width="1" height="4" fill="#fff"/>
<rect x="110" y="76" width="1" height="1" fill="#fff"/>
<rect x="112" y="78" width="1" height="4" fill="#fff"/>
<rect x="112" y="76" width="1" height="1" fill="#fff"/>
<rect x="115" y="78" width="1" height="4" fill="#fff"/>
<rect x="115" y="76" width="1" height="1" fill="#fff"/>
<rect x="118" y="78" width="1" height="4" fill="#fff"/>
<rect x="118" y="76" width="1" height="1" fill="#fff"/>
<rect x="120" y="78" width="1" height="4" fill="#fff"/>
<rect x="120" y="76" width="1" height="1" fill="#fff"/>
<rect x="123" y="78" width="1" height="4" fill="#fff"/>
<rect x="123" y="76" width="1" height="1" fill="#fff"/>
<rect x="126" y="78" width="1" height="4" fill="#fff"/>
<rect x="126" y="76" width="1" height="1" fill="#fff"/>
<rect x="128" y="78" width="1" height="4" fill="#fff"/>
<rect x="128" y="76" width="1" height="1" fill="#fff"/>
<rect x="131" y="78" width="1" height="4" fill="#fff"/>
<rect x="131" y="76" width="1" height="1" fill="#fff"/>
<rect x="134" y="78" width="1" height="4" fill="#fff"/>
<rect x="134" y="76" width="1" height="1" fill="#fff"/>
<rect x="136" y="78" width="2" height="4" fill="#fff"/>
<rect x="136" y="76" width="1" height="1" fill="#fff"/>
<rect x="139" y="78" width="1" height="4" fill="#fff"/>
<rect x="139" y="76" width="1" height="1" fill="#fff"/>
<rect x="142" y="78" width="1" height="4" fill="#fff"/>
<rect x="142" y="76" width="1" height="1" fill="#fff"/>
<rect x="144" y="78" width="1" height="4" fill="#fff"/>
<rect x="144" y="76" width="1" height="1" fill="#fff"/>
<rect x="147" y="78" width="1" height="4" fill="#fff"/>
<rect x="147" y="76" width="1" height="1" fill="#fff"/>
<rect x="150" y="78" width="1" height="4" fill="#fff"/>
<rect x="150" y="76" width="1" height="1" fill="#fff"/>
<rect x="152" y="78" width="1" height="4" fill="#fff"/>
<rect x="152" y="76" width="1" height="1" fill="#fff"/>
<rect x="155" y="78" width="1" height="4" fill="#fff"/>
<rect x="155" y="76" width="1" height="1" fill="#fff"/>
<rect x="158" y="78" width="1" height="4" fill="#fff"/>
<rect x="158" y="76" width="1" height="1" fill="#fff"/>
<rect x="160" y="78" width="2" height="4" fill="#fff"/>
<rect x="160" y="76" width="1" height="1" fill="#fff"/>
<rect x="163" y="78" width="1" height="4" fill="#fff"/>
<rect x="163" y="76" width="1" height="1" fill="#fff"/>
<rect x="166" y="78" width="1" height="4" fill="#fff"/>
<rect x="166" y="76" width="1" height="1" fill="#fff"/>
<rect x="179" y="78" width="1" height="4" fill="#fff"/>
<rect x="179" y="76" width="1" height="1" fill="#fff"/>
<rect x="182" y="78" width="1" height="4" fill="#fff"/>
<rect x="182" y="76" width="1" height="1" fill="#fff"/>
<rect x="184" y="78" width="1" height="4" fill="#fff"/>
<rect x="184" y="76" width="1" height="1" fill="#fff"/>
<rect x="187" y="78" width="1" height="4" fill="#fff"/>
<rect x="187" y="76" width="1" height="1" fill="#fff"/>
<rect x="190" y="78" width="1" height="4" fill="#fff"/>
<rect x="190" y="76" width="1" height="1" fill="#fff"/>
<rect x="192" y="78" width="1" height="4" fill="#fff"/>
<rect x="192" y="76" width="1" height="1" fill="#fff"/>
<rect x="195" y="78" width="1" height="4" fill="#fff"/>
<rect x="195" y="76" width="1" height="1" fill="#fff"/>
<rect x="198" y="78" width="1" height="4" fill="#fff"/>
<rect x="198" y="76" width="1" height="1" fill="#fff"/>
<rect x="200" y="78" width="1" height="4" fill="#fff"/>
<rect x="200" y="76" width="1" height="1" fill="#fff"/>
<rect x="203" y="78" width="1" height="4" fill="#fff"/>
<rect x="203" y="76" width="1" height="1" fill="#fff"/>
<rect x="206" y="78" width="1" height="4" fill="#fff"/>
<rect x="206" y="76" width="1" height="1" fill="#fff"/>
<rect x="208" y="78" width="1" height="4" fill="#fff"/>
<rect x="208" y="76" width="1" height="1" fill="#fff"/>
<rect x="211" y="78" width="1" height="4" fill="#fff"/>
<rect x="211" y="76" width="1" height="1" fill="#fff"/>
<rect x="214" y="78" width="1" height="4" fill="#fff"/>
<rect x="214" y="76" width="1" height="1" fill="#fff"/>
<rect x="216" y="78" width="1" height="4" fill="#fff"/>
<rect x="216" y="76" width="1" height="1" fill="#fff"/>
<rect x="219" y="78" width="1" height="4" fill="#fff"/>
<rect x="219" y="76" width="1" height="1" fill="#fff"/>
<rect x="222" y="78" width="1" height="4" fill="#fff"/>
<rect x="222" y="76" width="1" height="1" fill="#fff"/>
<rect x="224" y="78" width="1" height="4" fill="#fff"/>
<rect x="224" y="76" width="1" height="1" fill="#fff"/>
<rect x="227" y="78" width="1" height="4" fill="#fff"/>
<rect x="227" y="76" width="1" height="1" fill="#fff"/>
<rect x="230" y="78" width="1" height="4" fill="#fff"/>
<rect x="230" y="76" width="1" height="1" fill="#fff"/>
<rect x="232" y="78" width="1" height="4" fill="#fff"/>
<rect x="232" y="76" width="1" height="1" fill="#fff"/>
<rect x="235" y="78" width="1" height="4" fill="#fff"/>
<rect x="235" y="76" width="1" height="1" fill="#fff"/>
<rect x="238" y="78" width="1" height="4" fill="#fff"/>
<rect x="238" y="76" width="1" height="1" fill="#fff"/>
<rect x="240" y="78" width="1" height="4" fill="#fff"/>
<rect x="240" y="76" width="1" height="1" fill="#fff"/>
<rect x="243" y="78" width="1" height="4" fill="#fff"/>
<rect x="243" y="76" width="1" height="1" fill="#fff"/>
<rect x="246" y="78" width="1" height="4" fill="#fff"/>
<rect x="246" y="76" width="1" height="1" fill="#fff"/>
<rect x="248" y="78" width="1" height="4" fill="#fff"/>
<rect x="248" y="76" width="1" height="1" fill="#fff"/>
<rect x="251" y="78" width="1" height="4" fill="#fff"/>
<rect x="251" y="76" width="1" height="1" fill="#fff"/>
<rect x="254" y="78" width="1" height="4" fill="#fff"/>
<rect x="254" y="76" width="1" height="1" fill="#fff"/>
<rect x="256" y="78" width="2" height="4" fill="#fff"/>
<rect x="256" y="76" width="1" height="1" fill="#fff"/>
<rect x="259" y="78" width="1" height="4" fill="#fff"/>
<rect x="259" y="76" width="1" height="1" fill="#fff"/>
<rect x="262" y="78" width="1" height="4" fill="#fff"/>
<rect x="262" y="76" width="1" height="1" fill="#fff"/>
<rect x="264" y="78" width="1" height="4" fill="#fff"/>
<rect x="264" y="76" width="1" height="1" fill="#fff"/>
<rect x="267" y="78" width="1" height="4" fill="#fff"/>
<rect x="267" y="76" width="1" height="1" fill="#fff"/>
<rect x="270" y="78" width="1" height="4" fill="#fff"/>
<rect x="270" y="76" width="1" height="1" fill="#fff"/>
<rect x="272" y="78" width="1" height="4" fill="#fff"/>
<rect x="272" y="76" width="1" height="1" fill="#fff"/>
<rect x="275" y="78" width="1" height="4" fill="#fff"/>
<rect x="275" y="76" width="1" height="1" fill="#fff"/>
<rect x="278" y="78" width="1" height="4" fill="#fff"/>
<rect x="278" y="76" width="1" height="1" fill="#fff"/>
<rect x="280" y="78" width="1" height="4" fill="#fff"/>
<rect x="280" y="76" width="1" height="1" fill="#fff"/>
<rect x="283" y="78" width="1" height="4" fill="#fff"/>
<rect x="283" y="76" width="1" height="1" fill="#fff"/>
<rect x="286" y="78" width="1" height="4" fill="#fff"/>
<rect x="286" y="76" width="1" height="1" fill="#fff"/>
<rect x="170" y="76" width="8" height="5" fill="#fff"/>
<rect x="170" y="83" width="9" height="5" fill="#fff"/>
<rect x="35" y="91" width="278" height="16" fill="#000"/>
<rect x="36" y="92" width="276" height="14" fill="#fff"/>
<rect x="43" y="91" width="1" height="16" fill="#000"/>
<rect x="36" y="95" width="7" height="1" fill="#000"/>
<rect x="36" y="100" width="7" height="1" fill="#000"/>
<rect x="44" y="93" width="3" height="1" fill="#000"/>
<rect x="45" y="93" width="2" height="13" fill="#000"/>
<rect x="44" y="105" width="3" height="1" fill="#000"/>
<rect x="47" y="94" width="10" height="8" fill="#000"/>
<rect x="48" y="95" width="8" height="5" fill="#fff"/>
<rect x="47" y="100" width="8" height="6" fill="#000"/>
<rect x="50" y="101" width="4" height="1" fill="#fff"/>
<rect x="47" y="102" width="7" height="3" fill="#fff"/>
<rect x="305" y="91" width="1" height="16" fill="#000"/>
<rect x="306" y="95" width="7" height="1" fill="#000"/>
<rect x="306" y="100" width="7" height="1" fill="#000"/>
<rect x="302" y="93" width="3" height="1" fill="#000"/>
<rect x="302" y="93" width="2" height="13" fill="#000"/>
<rect x="302" y="105" width="3" height="1" fill="#000"/>
<rect x="292" y="94" width="10" height="8" fill="#000"/>
<rect x="293" y="95" width="8" height="5" fill="#fff"/>
<rect x="294" y="100" width="8" height="6" fill="#000"/>
<rect x="295" y="101" width="4" height="1" fill="#fff"/>
<rect x="295" y="102" width="7" height="3" fill="#fff"/>
<rect x="58" y="94" width="232" height="5" fill="#000"/>
<rect x="60" y="93" width="229" height="1" fill="#000"/>
<rect x="59" y="99" width="230" height="6" fill="#000"/>
<rect x="59" y="95" width="1" height="4" fill="#fff"/>
<rect x="59" y="93" width="1" height="1" fill="#fff"/>
<rect x="62" y="95" width="1" height="4" fill="#fff"/>
<rect x="62" y="93" width="1" height="1" fill="#fff"/>
<rect x="64" y="95" width="1" height="4" fill="#fff"/>
<rect x="64" y="93" width="1" height="1" fill="#fff"/>
<rect x="67" y="95" width="1" height="4" fill="#fff"/>
<rect x="67" y="93" width="1" height="1" fill="#fff"/>
<rect x="70" y="95" width="1" height="4" fill="#fff"/>
<rect x="70" y="93" width="1" height="1" fill="#fff"/>
<rect x="72" y="95" width="1" height="4" fill="#fff"/>
<rect x="72" y="93" width="1" height="1" fill="#fff"/>
<rect x="75" y="95" width="1" height="4" fill="#fff"/>
<rect x="75" y="93" width="1" height="1" fill="#fff"/>
<rect x="80" y="95" width="1" height="4" fill="#fff"/>
<rect x="80" y="93" width="1" height="1" fill="#fff"/>
<rect x="83" y="95" width="1" height="4" fill="#fff"/>
<rect x="83" y="93" width="1" height="1" fill="#fff"/>
<rect x="86" y="95" width="1" height="4" fill="#fff"/>
<rect x="86" y="93" width="1" height="1" fill="#fff"/>
<rect x="88" y="95" width="1" height="4" fill="#fff"/>
<rect x="88" y="93" width="1" height="1" fill="#fff"/>
<rect x="91" y="95" width="1" height="4" fill="#fff"/>
<rect x="91" y="93" width="1" height="1" fill="#fff"/>
<rect x="94" y="95" width="1" height="4" fill="#fff"/>
<rect x="94" y="93" width="1" height="1" fill="#fff"/>
<rect x="96" y="95" width="1" height="4" fill="#fff"/>
<rect x="96" y="93" width="1" height="1" fill="#fff"/>
<rect x="99" y="95" width="1" height="4" fill="#fff"/>
<rect x="99" y="93" width="1" height="1" fill="#fff"/>
<rect x="102" y="95" width="1" height="4" fill="#fff"/>
<rect x="102" y="93" width="1" height="1" fill="#fff"/>
<rect x="104" y="95" width="1" height="4" fill="#fff"/>
<rect x="104" y="93" width="1" height="1" fill="#fff"/>
<rect x="107" y="95" width="1" height="4" fill="#fff"/>
<rect x="107" y="93" width="1" height="1" fill="#fff"/>
<rect x="110" y="95" width="1" height="4" fill="#fff"/>
<rect x="110" y="93" width="1" height="1" fill="#fff"/>
<rect x="112" y="95" width="1" height="4" fill="#fff"/>
<rect x="112" y="93" width="1" height="1" fill="#fff"/>
<rect x="115" y="95" width="1" height="4" fill="#fff"/>
<rect x="115" y="93" width="1" height="1" fill="#fff"/>
<rect x="118" y="95" width="1" height="4" fill="#fff"/>
<rect x="118" y="93" width="1" height="1" fill="#fff"/>
<rect x="120" y="95" width="1" height="4" fill="#fff"/>
<rect x="120" y="93" width="1" height="1" fill="#fff"/>
<rect x="123" y="95" width="1" height="4" fill="#fff"/>
<rect x="123" y="93" width="1" height="1" fill="#fff"/>
<rect x="126" y="95" width="1" height="4" fill="#fff"/>
<rect x="126" y="93" width="1" height="1" fill="#fff"/>
<rect x="128" y="95" width="1" height="4" fill="#fff"/>
<rect x="128" y="93" width="1" height="1" fill="#fff"/>
<rect x="131" y="95" width="1" height="4" fill="#fff"/>
<rect x="131" y="93" width="1" height="1" fill="#fff"/>
<rect x="134" y="95" width="1" height="4" fill="#fff"/>
<rect x="134" y="93" width="1" height="1" fill="#fff"/>
<rect x="136" y="95" width="2" height="4" fill="#fff"/>
<rect x="136" y="93" width="1" height="1" fill="#fff"/>
<rect x="139" y="95" width="1" height="4" fill="#fff"/>
<rect x="139" y="93" width="1" height="1" fill="#fff"/>
<rect x="142" y="95" width="1" height="4" fill="#fff"/>
<rect x="142" y="93" width="1" height="1" fill="#fff"/>
<rect x="144" y="95" width="1" height="4" fill="#fff"/>
<rect x="144" y="93" width="1" height="1" fill="#fff"/>
<rect x="147" y="95" width="1" height="4" fill="#fff"/>
<rect x="147" y="93" width="1" height="1" fill="#fff"/>
<rect x="150" y="95" width="1" height="4" fill="#fff"/>
<rect x="150" y="93" width="1" height="1" fill="#fff"/>
<rect x="152" y="95" width="1" height="4" fill="#fff"/>
<rect x="152" y="93" width="1" height="1" fill="#fff"/>
<rect x="155" y="95" width="1" height="4" fill="#fff"/>
<rect x="155" y="93" width="1" height="1" fill="#fff"/>
<rect x="158" y="95" width="1" height="4" fill="#fff"/>
<rect x="158" y="93" width="1" height="1" fill="#fff"/>
<rect x="160" y="95" width="2" height="4" fill="#fff"/>
<rect x="160" y="93" width="1" height="1" fill="#fff"/>
<rect x="163" y="95" width="1" height="4" fill="#fff"/>
<rect x="163" y="93" width="1" height="1" fill="#fff"/>
<rect x="166" y="95" width="1" height="4" fill="#fff"/>
<rect x="166" y="93" width="1" height="1" fill="#fff"/>
<rect x="179" y="95" width="1" height="4" fill="#fff"/>
<rect x="179" y="93" width="1" height="1" fill="#fff"/>
<rect x="182" y="95" width="1" height="4" fill="#fff"/>
<rect x="182" y="93" width="1" height="1" fill="#fff"/>
<rect x="184" y="95" width="1" height="4" fill="#fff"/>
<rect x="184" y="93" width="1" height="1" fill="#fff"/>
<rect x="187" y="95" width="1" height="4" fill="#fff"/>
<rect x="187" y="93" width="1" height="1" fill="#fff"/>
<rect x="190" y="95" width="1" height="4" fill="#fff"/>
<rect x="190" y="93" width="1" height="1" fill="#fff"/>
<rect x="192" y="95" width="1" height="4" fill="#fff"/>
<rect x="192" y="93" width="1" height="1" fill="#fff"/>
<rect x="195" y="95" width="1" height="4" fill="#fff"/>
<rect x="195" y="93" width="1" height="1" fill="#fff"/>
<rect x="198" y="95" width="1" height="4" fill="#fff"/>
<rect x="198" y="93" width="1" height="1" fill="#fff"/>
<rect x="200" y="95" width="1" height="4" fill="#fff"/>
<rect x="200" y="93" width="1" height="1" fill="#fff"/>
<rect x="203" y="95" width="1" height="4" fill="#fff"/>
<rect x="203" y="93" width="1" height="1" fill="#fff"/>
<rect x="206" y="95" width="1" height="4" fill="#fff"/>
<rect x="206" y="93" width="1" height="1" fill="#fff"/>
<rect x="208" y="95" width="1" height="4" fill="#fff"/>
<rect x="208" y="93" width="1" height="1" fill="#fff"/>
<rect x="211" y="95" width="1" height="4" fill="#fff"/>
<rect x="211" y="93" width="1" height="1" fill="#fff"/>
<rect x="214" y="95" width="1" height="4" fill="#fff"/>
<rect x="214" y="93" width="1" height="1" fill="#fff"/>
<rect x="216" y="95" width="1" height="4" fill="#fff"/>
<rect x="216" y="93" width="1" height="1" fill="#fff"/>
<rect x="219" y="95" width="1" height="4" fill="#fff"/>
<rect x="219" y="93" width="1" height="1" fill="#fff"/>
<rect x="222" y="95" width="1" height="4" fill="#fff"/>
<rect x="222" y="93" width="1" height="1" fill="#fff"/>
<rect x="224" y="95" width="1" height="4" fill="#fff"/>
<rect x="224" y="93" width="1" height="1" fill="#fff"/>
<rect x="227" y="95" width="1" height="4" fill="#fff"/>
<rect x="227" y="93" width="1" height="1" fill="#fff"/>
<rect x="230" y="95" width="1" height="4" fill="#fff"/>
<rect x="230" y="93" width="1" height="1" fill="#fff"/>
<rect x="232" y="95" width="1" height="4" fill="#fff"/>
<rect x="232" y="93" width="1" height="1" fill="#fff"/>
<rect x="235" y="95" width="1" height="4" fill="#fff"/>
<rect x="235" y="93" width="1" height="1" fill="#fff"/>
<rect x="238" y="95" width="1" height="4" fill="#fff"/>
<rect x="238" y="93" width="1" height="1" fill="#fff"/>
<rect x="240" y="95" width="1" height="4" fill="#fff"/>
<rect x="240" y="93" width="1" height="1" fill="#fff"/>
<rect x="243" y="95" width="1" height="4" fill="#fff"/>
<rect x="243" y="93" width="1" height="1" fill="#fff"/>
<rect x="246" y="95" width="1" height="4" fill="#fff"/>
<rect x="246" y="93" width="1" height="1" fill="#fff"/>
<rect x="248" y="95" width="1" height="4" fill="#fff"/>
<rect x="248" y="93" width="1" height="1" fill="#fff"/>
<rect x="251" y="95" width="1" height="4" fill="#fff"/>
<rect x="251" y="93" width="1" height="1" fill="#fff"/>
<rect x="254" y="95" width="1" height="4" fill="#fff"/>
<rect x="254" y="93" width="1" height="1" fill="#fff"/>
<rect x="256" y="95" width="2" height="4" fill="#fff"/>
<rect x="256" y="93" width="1" height="1" fill="#fff"/>
<rect x="259" y="95" width="1" height="4" fill="#fff"/>
<rect x="259" y="93" width="1" height="1" fill="#fff"/>
<rect x="262" y="95" width="1" height="4" fill="#fff"/>
<rect x="262" y="93" width="1" height="1" fill="#fff"/>
<rect x="264" y="95" width="1" height="4" fill="#fff"/>
<rect x="264" y="93" width="1" height="1" fill="#fff"/>
<rect x="267" y="95" width="1" height="4" fill="#fff"/>
<rect x="267" y="93" width="1" height="1" fill="#fff"/>
<rect x="270" y="95" width="1" height="4" fill="#fff"/>
<rect x="270" y="93" width="1" height="1" fill="#fff"/>
<rect x="272" y="95" width="1" height="4" fill="#fff"/>
<rect x="272" y="93" width="1" height="1" fill="#fff"/>
<rect x="275" y="95" width="1" height="4" fill="#fff"/>
<rect x="275" y="93" width="1" height="1" fill="#fff"/>
<rect x="278" y="95" width="1" height="4" fill="#fff"/>
<rect x="278" y="93" width="1" height="1" fill="#fff"/>
<rect x="280" y="95" width="1" height="4" fill="#fff"/>
<rect x="280" y="93" width="1" height="1" fill="#fff"/>
<rect x="283" y="95" width="1" height="4" fill="#fff"/>
<rect x="283" y="93" width="1" height="1" fill="#fff"/>
<rect x="286" y="95" width="1" height="4" fill="#fff"/>
<rect x="286" y="93" width="1" height="1" fill="#fff"/>
<rect x="170" y="93" width="8" height="5" fill="#fff"/>
<rect x="170" y="100" width="9" height="5" fill="#fff"/>
<rect x="35" y="107" width="278" height="16" fill="#000"/>
<rect x="36" y="108" width="276" height="14" fill="#fff"/>
<rect x="43" y="107" width="1" height="16" fill="#000"/>
<rect x="36" y="111" width="7" height="1" fill="#000"/>
<rect x="36" y="116" width="7" height="1" fill="#000"/>
<rect x="44" y="109" width="3" height="1" fill="#000"/>
<rect x="45" y="109" width="2" height="13" fill="#000"/>
<rect x="44" y="121" width="3" height="1" fill="#000"/>
<rect x="47" y="110" width="10" height="8" fill="#000"/>
<rect x="48" y="111" width="8" height="5" fill="#fff"/>
<rect x="47" y="116" width="8" height="6" fill="#000"/>
<rect x="50" y="117" width="4" height="1" fill="#fff"/>
<rect x="47" y="118" width="7" height="3" fill="#fff"/>
<rect x="305" y="107" width="1" height="16" fill="#000"/>
<rect x="306" y="111" width="7" height="1" fill="#000"/>
<rect x="306" y="116" width="7" height="1" fill="#000"/>
<rect x="302" y="109" width="3" height="1" fill="#000"/>
<rect x="302" y="109" width="2" height="13" fill="#000"/>
<rect x="302" y="121" width="3" height="1" fill="#000"/>
<rect x="292" y="110" width="10" height="8" fill="#000"/>
<rect x="293" y="111" width="8" height="5" fill="#fff"/>
<rect x="294" y="116" width="8" height="6" fill="#000"/>
<rect x="295" y="117" width="4" height="1" fill="#fff"/>
<rect x="295" y="118" width="7" height="3" fill="#fff"/>
<rect x="58" y="110" width="232" height="5" fill="#000"/>
<rect x="60" y="109" width="229" height="1" fill="#000"/>
<rect x="59" y="115" width="230" height="6" fill="#000"/>
<rect x="59" y="111" width="1" height="4" fill="#fff"/>
<rect x="59" y="109" width="1" height="1" fill="#fff"/>
<rect x="62" y="111" width="1" height="4" fill="#fff"/>
<rect x="62" y="109" width="1" height="1" fill="#fff"/>
<rect x="64" y="111" width="1" height="4" fill="#fff"/>
<rect x="64" y="109" width="1" height="1" fill="#fff"/>
<rect x="67" y="111" width="1" height="4" fill="#fff"/>
<rect x="67" y="109" width="1" height="1" fill="#fff"/>
<rect x="70" y="111" width="1" height="4" fill="#fff"/>
<rect x="70" y="109" width="1" height="1" fill="#fff"/>
<rect x="72" y="111" width="1" height="4" fill="#fff"/>
<rect x="72" y="109" width="1" height="1" fill="#fff"/>
<rect x="75" y="111" width="1" height="4" fill="#fff"/>
<rect x="75" y="109" width="1" height="1" fill="#fff"/>
<rect x="80" y="111" width="1" height="4" fill="#fff"/>
<rect x="80" y="109" width="1" height="1" fill="#fff"/>
<rect x="83" y="111" width="1" height="4" fill="#fff"/>
<rect x="83" y="109" width="1" height="1" fill="#fff"/>
<rect x="86" y="111" width="1" height="4" fill="#fff"/>
<rect x="86" y="109" width="1" height="1" fill="#fff"/>
<rect x="88" y="111" width="1" height="4" fill="#fff"/>
<rect x="88" y="109" width="1" height="1" fill="#fff"/>
<rect x="91" y="111" width="1" height="4" fill="#fff"/>
<rect x="91" y="109" width="1" height="1" fill="#fff"/>
<rect x="94" y="111" width="1" height="4" fill="#fff"/>
<rect x="94" y="109" width="1" height="1" fill="#fff"/>
<rect x="96" y="111" width="1" height="4" fill="#fff"/>
<rect x="96" y="109" width="1" height="1" fill="#fff"/>
<rect x="99" y="111" width="1" height="4" fill="#fff"/>
<rect x="99" y="109" width="1" height="1" fill="#fff"/>
<rect x="102" y="111" width="1" height="4" fill="#fff"/>
<rect x="102" y="109" width="1" height="1" fill="#fff"/>
<rect x="104" y="111" width="1" height="4" fill="#fff"/>
<rect x="104" y="109" width="1" height="1" fill="#fff"/>
<rect x="107" y="111" width="1" height="4" fill="#fff"/>
<rect x="107" y="109" width="1" height="1" fill="#fff"/>
<rect x="110" y="111" width="1" height="4" fill="#fff"/>
<rect x="110" y="109" width="1" height="1" fill="#fff"/>
<rect x="112" y="111" width="1" height="4" fill="#fff"/>
<rect x="112" y="109" width="1" height="1" fill="#fff"/>
<rect x="115" y="111" width="1" height="4" fill="#fff"/>
<rect x="115" y="109" width="1" height="1" fill="#fff"/>
<rect x="118" y="111" width="1" height="4" fill="#fff"/>
<rect x="118" y="109" width="1" height="1" fill="#fff"/>
<rect x="120" y="111" width="1" height="4" fill="#fff"/>
<rect x="120" y="109" width="1" height="1" fill="#fff"/>
<rect x="123" y="111" width="1" height="4" fill="#fff"/>
<rect x="123" y="109" width="1" height="1" fill="#fff"/>
<rect x="126" y="111" width="1" height="4" fill="#fff"/>
<rect x="126" y="109" width="1" height="1" fill="#fff"/>
<rect x="128" y="111" width="1" height="4" fill="#fff"/>
<rect x="128" y="109" width="1" height="1" fill="#fff"/>
<rect x="131" y="111" width="1" height="4" fill="#fff"/>
<rect x="131" y="109" width="1" height="1" fill="#fff"/>
<rect x="134" y="111" width="1" height="4" fill="#fff"/>
<rect x="134" y="109" width="1" height="1" fill="#fff"/>
<rect x="136" y="111" width="2" height="4" fill="#fff"/>
<rect x="136" y="109" width="1" height="1" fill="#fff"/>
<rect x="139" y="111" width="1" height="4" fill="#fff"/>
<rect x="139" y="109" width="1" height="1" fill="#fff"/>
<rect x="142" y="111" width="1" height="4" fill="#fff"/>
<rect x="142" y="109" width="1" height="1" fill="#fff"/>
<rect x="144" y="111" width="1" height="4" fill="#fff"/>
<rect x="144" y="109" width="1" height="1" fill="#fff"/>
<rect x="147" y="111" width="1" height="4" fill="#fff"/>
<rect x="147" y="109" width="1" height="1" fill="#fff"/>
<rect x="150" y="111" width="1" height="4" fill="#fff"/>
<rect x="150" y="109" width="1" height="1" fill="#fff"/>
<rect x="152" y="111" width="1" height="4" fill="#fff"/>
<rect x="152" y="109" width="1" height="1" fill="#fff"/>
<rect x="155" y="111" width="1" height="4" fill="#fff"/>
<rect x="155" y="109" width="1" height="1" fill="#fff"/>
<rect x="158" y="111" width="1" height="4" fill="#fff"/>
<rect x="158" y="109" width="1" height="1" fill="#fff"/>
<rect x="160" y="111" width="2" height="4" fill="#fff"/>
<rect x="160" y="109" width="1" height="1" fill="#fff"/>
<rect x="163" y="111" width="1" height="4" fill="#fff"/>
<rect x="163" y="109" width="1" height="1" fill="#fff"/>
<rect x="166" y="111" width="1" height="4" fill="#fff"/>
<rect x="166" y="109" width="1" height="1" fill="#fff"/>
<rect x="179" y="111" width="1" height="4" fill="#fff"/>
<rect x="179" y="109" width="1" height="1" fill="#fff"/>
<rect x="182" y="111" width="1" height="4" fill="#fff"/>
<rect x="182" y="109" width="1" height="1" fill="#fff"/>
<rect x="184" y="111" width="1" height="4" fill="#fff"/>
<rect x="184" y="109" width="1" height="1" fill="#fff"/>
<rect x="187" y="111" width="1" height="4" fill="#fff"/>
<rect x="187" y="109" width="1" height="1" fill="#fff"/>
<rect x="190" y="111" width="1" height="4" fill="#fff"/>
<rect x="190" y="109" width="1" height="1" fill="#fff"/>
<rect x="192" y="111" width="1" height="4" fill="#fff"/>
<rect x="192" y="109" width="1" height="1" fill="#fff"/>
<rect x="195" y="111" width="1" height="4" fill="#fff"/>
<rect x="195" y="109" width="1" height="1" fill="#fff"/>
<rect x="198" y="111" width="1" height="4" fill="#fff"/>
<rect x="198" y="109" width="1" height="1" fill="#fff"/>
<rect x="200" y="111" width="1" height="4" fill="#fff"/>
<rect x="200" y="109" width="1" height="1" fill="#fff"/>
<rect x="203" y="111" width="1" height="4" fill="#fff"/>
<rect x="203" y="109" width="1" height="1" fill="#fff"/>
<rect x="206" y="111" width="1" height="4" fill="#fff"/>
<rect x="206" y="109" width="1" height="1" fill="#fff"/>
<rect x="208" y="111" width="1" height="4" fill="#fff"/>
<rect x="208" y="109" width="1" height="1" fill="#fff"/>
<rect x="211" y="111" width="1" height="4" fill="#fff"/>
<rect x="211" y="109" width="1" height="1" fill="#fff"/>
<rect x="214" y="111" width="1" height="4" fill="#fff"/>
<rect x="214" y="109" width="1" height="1" fill="#fff"/>
<rect x="216" y="111" width="1" height="4" fill="#fff"/>
<rect x="216" y="109" width="1" height="1" fill="#fff"/>
<rect x="219" y="111" width="1" height="4" fill="#fff"/>
<rect x="219" y="109" width="1" height="1" fill="#fff"/>
<rect x="222" y="111" width="1" height="4" fill="#fff"/>
<rect x="222" y="109" width="1" height="1" fill="#fff"/>
<rect x="224" y="111" width="1" height="4" fill="#fff"/>
<rect x="224" y="109" width="1" height="1" fill="#fff"/>
<rect x="227" y="111" width="1" height="4" fill="#fff"/>
<rect x="227" y="109" width="1" height="1" fill="#fff"/>
<rect x="230" y="111" width="1" height="4" fill="#fff"/>
<rect x="230" y="109" width="1" height="1" fill="#fff"/>
<rect x="232" y="111" width="1" height="4" fill="#fff"/>
<rect x="232" y="109" width="1" height="1" fill="#fff"/>
<rect x="235" y="111" width="1" height="4" fill="#fff"/>
<rect x="235" y="109" width="1" height="1" fill="#fff"/>
<rect x="238" y="111" width="1" height="4" fill="#fff"/>
<rect x="238" y="109" width="1" height="1" fill="#fff"/>
<rect x="240" y="111" width="1" height="4" fill="#fff"/>
<rect x="240" y="109" width="1" height="1" fill="#fff"/>
<rect x="243" y="111" width="1" height="4" fill="#fff"/>
<rect x="243" y="109" width="1" height="1" fill="#fff"/>
<rect x="246" y="111" width="1" height="4" fill="#fff"/>
<rect x="246" y="109" width="1" height="1" fill="#fff"/>
<rect x="248" y="111" width="1" height="4" fill="#fff"/>
<rect x="248" y="109" width="1" height="1" fill="#fff"/>
<rect x="251" y="111" width="1" height="4" fill="#fff"/>
<rect x="251" y="109" width="1" height="1" fill="#fff"/>
<rect x="254" y="111" width="1" height="4" fill="#fff"/>
<rect x="254" y="109" width="1" height="1" fill="#fff"/>
<rect x="256" y="111" width="2" height="4" fill="#fff"/>
<rect x="256" y="109" width="1" height="1" fill="#fff"/>
<rect x="259" y="111" width="1" height="4" fill="#fff"/>
<rect x="259" y="109" width="1" height="1" fill="#fff"/>
<rect x="262" y="111" width="1" height="4" fill="#fff"/>
<rect x="262" y="109" width="1" height="1" fill="#fff"/>
<rect x="264" y="111" width="1" height="4" fill="#fff"/>
<rect x="264" y="109" width="1" height="1" fill="#fff"/>
<rect x="267" y="111" width="1" height="4" fill="#fff"/>
<rect x="267" y="109" width="1" height="1" fill="#fff"/>
<rect x="270" y="111" width="1" height="4" fill="#fff"/>
<rect x="270" y="109" width="1" height="1" fill="#fff"/>
<rect x="272" y="111" width="1" height="4" fill="#fff"/>
<rect x="272" y="109" width="1" height="1" fill="#fff"/>
<rect x="275" y="111" width="1" height="4" fill="#fff"/>
<rect x="275" y="109" width="1" height="1" fill="#fff"/>
<rect x="278" y="111" width="1" height="4" fill="#fff"/>
<rect x="278" y="109" width="1" height="1" fill="#fff"/>
<rect x="280" y="111" width="1" height="4" fill="#fff"/>
<rect x="280" y="109" width="1" height="1" fill="#fff"/>
<rect x="283" y="111" width="1" height="4" fill="#fff"/>
<rect x="283" y="109" width="1" height="1" fill="#fff"/>
<rect x="286" y="111" width="1" height="4" fill="#fff"/>
<rect x="286" y="109" width="1" height="1" fill="#fff"/>
<rect x="170" y="109" width="8" height="5" fill="#fff"/>
<rect x="170" y="116" width="9" height="5" fill="#fff"/>
<rect x="35" y="124" width="278" height="16" fill="#000"/>
<rect x="36" y="125" width="276" height="14" fill="#fff"/>
<rect x="43" y="124" width="1" height="16" fill="#000"/>
<rect x="36" y="128" width="7" height="1" fill="#000"/>
<rect x="36" y="133" width="7" height="1" fill="#000"/>
<rect x="44" y="126" width="3" height="1" fill="#000"/>
<rect x="45" y="126" width="2" height="13" fill="#000"/>
<rect x="44" y="138" width="3" height="1" fill="#000"/>
<rect x="47" y="127" width="10" height="8" fill="#000"/>
<rect x="48" y="128" width="8" height="5" fill="#fff"/>
<rect x="47" y="133" width="8" height="6" fill="#000"/>
<rect x="50" y="134" width="4" height="1" fill="#fff"/>
<rect x="47" y="135" width="7" height="3" fill="#fff"/>
<rect x="305" y="124" width="1" height="16" fill="#000"/>
<rect x="306" y="128" width="7" height="1" fill="#000"/>
<rect x="306" y="133" width="7" height="1" fill="#000"/>
<rect x="302" y="126" width="3" height="1" fill="#000"/>
<rect x="302" y="126" width="2" height="13" fill="#000"/>
<rect x="302" y="138" width="3" height="1" fill="#000"/>
<rect x="292" y="127" width="10" height="8" fill="#000"/>
<rect x="293" y="128" width="8" height="5" fill="#fff"/>
<rect x="294" y="133" width="8" height="6" fill="#000"/>
<rect x="295" y="134" width="4" height="1" fill="#fff"/>
<rect x="295" y="135" width="7" height="3" fill="#fff"/>
<rect x="58" y="127" width="232" height="5" fill="#000"/>
<rect x="60" y="126" width="229" height="1" fill="#000"/>
<rect x="59" y="132" width="230" height="6" fill="#000"/>
<rect x="59" y="128" width="1" height="4" fill="#fff"/>
<rect x="59" y="126" width="1" height="1" fill="#fff"/>
<rect x="62" y="128" width="1" height="4" fill="#fff"/>
<rect x="62" y="126" width="1" height="1" fill="#fff"/>
<rect x="64" y="128" width="1" height="4" fill="#fff"/>
<rect x="64" y="126" width="1" height="1" fill="#fff"/>
<rect x="67" y="128" width="1" height="4" fill="#fff"/>
<rect x="67" y="126" width="1" height="1" fill="#fff"/>
<rect x="70" y="128" width="1" height="4" fill="#fff"/>
<rect x="70" y="126" width="1" height="1" fill="#fff"/>
<rect x="72" y="128" width="1" height="4" fill="#fff"/>
<rect x="72" y="126" width="1" height="1" fill="#fff"/>
<rect x="75" y="128" width="1" height="4" fill="#fff"/>
<rect x="75" y="126" width="1" height="1" fill="#fff"/>
<rect x="80" y="128" width="1" height="4" fill="#fff"/>
<rect x="80" y="126" width="1" height="1" fill="#fff"/>
<rect x="83" y="128" width="1" height="4" fill="#fff"/>
<rect x="83" y="126" width="1" height="1" fill="#fff"/>
<rect x="86" y="128" width="1" height="4" fill="#fff"/>
<rect x="86" y="126" width="1" height="1" fill="#fff"/>
<rect x="88" y="128" width="1" height="4" fill="#fff"/>
<rect x="88" y="126" width="1" height="1" fill="#fff"/>
<rect x="91" y="128" width="1" height="4" fill="#fff"/>
<rect x="91" y="126" width="1" height="1" fill="#fff"/>
<rect x="94" y="128" width="1" height="4" fill="#fff"/>
<rect x="94" y="126" width="1" height="1" fill="#fff"/>
<rect x="96" y="128" width="1" height="4" fill="#fff"/>
<rect x="96" y="126" width="1" height="1" fill="#fff"/>
<rect x="99" y="128" width="1" height="4" fill="#fff"/>
<rect x="99" y="126" width="1" height="1" fill="#fff"/>
<rect x="102" y="128" width="1" height="4" fill="#fff"/>
<rect x="102" y="126" width="1" height="1" fill="#fff"/>
<rect x="104" y="128" width="1" height="4" fill="#fff"/>
<rect x="104" y="126" width="1" height="1" fill="#fff"/>
<rect x="107" y="128" width="1" height="4" fill="#fff"/>
<rect x="107" y="126" width="1" height="1" fill="#fff"/>
<rect x="110" y="128" width="1" height="4" fill="#fff"/>
<rect x="110" y="126" width="1" height="1" fill="#fff"/>
<rect x="112" y="128" width="1" height="4" fill="#fff"/>
<rect x="112" y="126" width="1" height="1" fill="#fff"/>
<rect x="115" y="128" width="1" height="4" fill="#fff"/>
<rect x="115" y="126" width="1" height="1" fill="#fff"/>
<rect x="118" y="128" width="1" height="4" fill="#fff"/>
<rect x="118" y="126" width="1" height="1" fill="#fff"/>
<rect x="120" y="128" width="1" height="4" fill="#fff"/>
<rect x="120" y="126" width="1" height="1" fill="#fff"/>
<rect x="123" y="128" width="1" height="4" fill="#fff"/>
<rect x="123" y="126" width="1" height="1" fill="#fff"/>
<rect x="126" y="128" width="1" height="4" fill="#fff"/>
<rect x="126" y="126" width="1" height="1" fill="#fff"/>
<rect x="128" y="128" width="1" height="4" fill="#fff"/>
<rect x="128" y="126" width="1" height="1" fill="#fff"/>
<rect x="131" y="128" width="1" height="4" fill="#fff"/>
<rect x="131" y="126" width="1" height="1" fill="#fff"/>
<rect x="134" y="128" width="1" height="4" fill="#fff"/>
<rect x="134" y="126" width="1" height="1" fill="#fff"/>
<rect x="136" y="128" width="2" height="4" fill="#fff"/>
<rect x="136" y="126" width="1" height="1" fill="#fff"/>
<rect x="139" y="128" width="1" height="4" fill="#fff"/>
<rect x="139" y="126" width="1" height="1" fill="#fff"/>
<rect x="142" y="128" width="1" height="4" fill="#fff"/>
<rect x="142" y="126" width="1" height="1" fill="#fff"/>
<rect x="144" y="128" width="1" height="4" fill="#fff"/>
<rect x="144" y="126" width="1" height="1" fill="#fff"/>
<rect x="147" y="128" width="1" height="4" fill="#fff"/>
<rect x="147" y="126" width="1" height="1" fill="#fff"/>
<rect x="150" y="128" width="1" height="4" fill="#fff"/>
<rect x="150" y="126" width="1" height="1" fill="#fff"/>
<rect x="152" y="128" width="1" height="4" fill="#fff"/>
<rect x="152" y="126" width="1" height="1" fill="#fff"/>
<rect x="155" y="128" width="1" height="4" fill="#fff"/>
<rect x="155" y="126" width="1" height="1" fill="#fff"/>
<rect x="158" y="128" width="1" height="4" fill="#fff"/>
<rect x="158" y="126" width="1" height="1" fill="#fff"/>
<rect x="160" y="128" width="2" height="4" fill="#fff"/>
<rect x="160" y="126" width="1" height="1" fill="#fff"/>
<rect x="163" y="128" width="1" height="4" fill="#fff"/>
<rect x="163" y="126" width="1" height="1" fill="#fff"/>
<rect x="166" y="128" width="1" height="4" fill="#fff"/>
<rect x="166" y="126" width="1" height="1" fill="#fff"/>
<rect x="179" y="128" width="1" height="4" fill="#fff"/>
<rect x="179" y="126" width="1" height="1" fill="#fff"/>
<rect x="182" y="128" width="1" height="4" fill="#fff"/>
<rect x="182" y="126" width="1" height="1" fill="#fff"/>
<rect x="184" y="128" width="1" height="4" fill="#fff"/>
<rect x="184" y="126" width="1" height="1" fill="#fff"/>
<rect x="187" y="128" width="1" height="4" fill="#fff"/>
<rect x="187" y="126" width="1" height="1" fill="#fff"/>
<rect x="190" y="128" width="1" height="4" fill="#fff"/>
<rect x="190" y="126" width="1" height="1" fill="#fff"/>
<rect x="192" y="128" width="1" height="4" fill="#fff"/>
<rect x="192" y="126" width="1" height="1" fill="#fff"/>
<rect x="195" y="128" width="1" height="4" fill="#fff"/>
<rect x="195" y="126" width="1" height="1" fill="#fff"/>
<rect x="198" y="128" width="1" height="4" fill="#fff"/>
<rect x="198" y="126" width="1" height="1" fill="#fff"/>
<rect x="200" y="128" width="1" height="4" fill="#fff"/>
<rect x="200" y="126" width="1" height="1" fill="#fff"/>
<rect x="203" y="128" width="1" height="4" fill="#fff"/>
<rect x="203" y="126" width="1" height="1" fill="#fff"/>
<rect x="206" y="128" width="1" height="4" fill="#fff"/>
<rect x="206" y="126" width="1" height="1" fill="#fff"/>
<rect x="208" y="128" width="1" height="4" fill="#fff"/>
<rect x="208" y="126" width="1" height="1" fill="#fff"/>
<rect x="211" y="128" width="1" height="4" fill="#fff"/>
<rect x="211" y="126" width="1" height="1" fill="#fff"/>
<rect x="214" y="128" width="1" height="4" fill="#fff"/>
<rect x="214" y="126" width="1" height="1" fill="#fff"/>
<rect x="216" y="128" width="1" height="4" fill="#fff"/>
<rect x="216" y="126" width="1" height="1" fill="#fff"/>
<rect x="219" y="128" width="1" height="4" fill="#fff"/>
<rect x="219" y="126" width="1" height="1" fill="#fff"/>
<rect x="222" y="128" width="1" height="4" fill="#fff"/>
<rect x="222" y="126" width="1" height="1" fill="#fff"/>
<rect x="224" y="128" width="1" height="4" fill="#fff"/>
<rect x="224" y="126" width="1" height="1" fill="#fff"/>
<rect x="227" y="128" width="1" height="4" fill="#fff"/>
<rect x="227" y="126" width="1" height="1" fill="#fff"/>
<rect x="230" y="128" width="1" height="4" fill="#fff"/>
<rect x="230" y="126" width="1" height="1" fill="#fff"/>
<rect x="232" y="128" width="1" height="4" fill="#fff"/>
<rect x="232" y="126" width="1" height="1" fill="#fff"/>
<rect x="235" y="128" width="1" height="4" fill="#fff"/>
<rect x="235" y="126" width="1" height="1" fill="#fff"/>
<rect x="238" y="128" width="1" height="4" fill="#fff"/>
<rect x="238" y="126" width="1" height="1" fill="#fff"/>
<rect x="240" y="128" width="1" height="4" fill="#fff"/>
<rect x="240" y="126" width="1" height="1" fill="#fff"/>
<rect x="243" y="128" width="1" height="4" fill="#fff"/>
<rect x="243" y="126" width="1" height="1" fill="#fff"/>
<rect x="246" y="128" width="1" height="4" fill="#fff"/>
<rect x="246" y="126" width="1" height="1" fill="#fff"/>
<rect x="248" y="128" width="1" height="4" fill="#fff"/>
<rect x="248" y="126" width="1" height="1" fill="#fff"/>
<rect x="251" y="128" width="1" height="4" fill="#fff"/>
<rect x="251" y="126" width="1" height="1" fill="#fff"/>
<rect x="254" y="128" width="1" height="4" fill="#fff"/>
<rect x="254" y="126" width="1" height="1" fill="#fff"/>
<rect x="256" y="128" width="2" height="4" fill="#fff"/>
<rect x="256" y="126" width="1" height="1" fill="#fff"/>
<rect x="259" y="128" width="1" height="4" fill="#fff"/>
<rect x="259" y="126" width="1" height="1" fill="#fff"/>
<rect x="262" y="128" width="1" height="4" fill="#fff"/>
<rect x="262" y="126" width="1" height="1" fill="#fff"/>
<rect x="264" y="128" width="1" height="4" fill="#fff"/>
<rect x="264" y="126" width="1" height="1" fill="#fff"/>
<rect x="267" y="128" width="1" height="4" fill="#fff"/>
<rect x="267" y="126" width="1" height="1" fill="#fff"/>
<rect x="270" y="128" width="1" height="4" fill="#fff"/>
<rect x="270" y="126" width="1" height="1" fill="#fff"/>
<rect x="272" y="128" width="1" height="4" fill="#fff"/>
<rect x="272" y="126" width="1" height="1" fill="#fff"/>
<rect x="275" y="128" width="1" height="4" fill="#fff"/>
<rect x="275" y="126" width="1" height="1" fill="#fff"/>
<rect x="278" y="128" width="1" height="4" fill="#fff"/>
<rect x="278" y="126" width="1" height="1" fill="#fff"/>
<rect x="280" y="128" width="1" height="4" fill="#fff"/>
<rect x="280" y="126" width="1" height="1" fill="#fff"/>
<rect x="283" y="128" width="1" height="4" fill="#fff"/>
<rect x="283" y="126" width="1" height="1" fill="#fff"/>
<rect x="286" y="128" width="1" height="4" fill="#fff"/>
<rect x="286" y="126" width="1" height="1" fill="#fff"/>
<rect x="170" y="126" width="8" height="5" fill="#fff"/>
<rect x="170" y="133" width="9" height="5" fill="#fff"/>
<rect x="144" y="47" width="60" height="19" fill="#000"/>
<rect x="147" y="49" width="55" height="15" fill="#fff"/>
<rect x="201" y="49" width="1" height="1" fill="#000"/>
<g filter="url(#bw)"><text transform="translate(0,62) scale(0.8,1)" x="187.12 198.57 210.44 221.10 226.10 239.19" y="0" font-family="'Liberation Mono', monospace" font-size="15.2" fill="#000" xml:space="preserve">BANK 2</text></g>
<rect x="144" y="81" width="60" height="18" fill="#000"/>
<rect x="147" y="83" width="55" height="14" fill="#fff"/>
<rect x="201" y="83" width="1" height="1" fill="#000"/>
<g filter="url(#bw)"><text transform="translate(0,95) scale(0.8,1)" x="187.25 198.57 210.44 222.35 227.35 238.51" y="0" font-family="'Liberation Mono', monospace" font-size="15.2" fill="#000" xml:space="preserve">BANK 1</text></g>
<rect x="144" y="114" width="60" height="18" fill="#000"/>
<rect x="147" y="116" width="55" height="14" fill="#fff"/>
<rect x="201" y="116" width="1" height="1" fill="#000"/>
<g filter="url(#bw)"><text transform="translate(0,128) scale(0.8,1)" x="187.12 198.57 210.44 221.10 226.10 239.20" y="0" font-family="'Liberation Mono', monospace" font-size="15.2" fill="#000" xml:space="preserve">BANK 0</text></g>
<rect x="272" y="12" width="22" height="1" fill="#000"/>
<rect x="272" y="29" width="22" height="1" fill="#000"/>
<rect x="271" y="13" width="24" height="1" fill="#000"/>
<rect x="271" y="28" width="24" height="1" fill="#000"/>
<rect x="270" y="14" width="26" height="14" fill="#000"/>
<rect x="273" y="14" width="19" height="1" fill="#fff"/>
<rect x="273" y="27" width="19" height="1" fill="#fff"/>
<rect x="272" y="15" width="21" height="12" fill="#fff"/>
<rect x="296" y="18" width="3" height="1" fill="#000"/>
<rect x="296" y="19" width="10" height="1" fill="#000"/>
<rect x="293" y="20" width="8" height="2" fill="#fff"/>
<rect x="301" y="20" width="6" height="2" fill="#000"/>
<rect x="307" y="21" width="3" height="1" fill="#000"/>
<rect x="296" y="22" width="10" height="1" fill="#000"/>
<rect x="296" y="23" width="4" height="1" fill="#000"/>
<g filter="url(#bw)"><text transform="translate(0,25) scale(0.8,1)" x="342.11 352.37" y="0" font-family="'Liberation Mono', monospace" font-size="15.2" fill="#000" xml:space="preserve">E6</text></g>
<rect x="310" y="18" width="19" height="7" fill="#000"/>
<rect x="311" y="19" width="17" height="1" fill="#fff"/>
<rect x="311" y="19" width="1" height="5" fill="#fff"/>
<rect x="313" y="21" width="2" height="2" fill="#fff"/>
<rect x="316" y="20" width="1" height="4" fill="#fff"/>
<rect x="322" y="20" width="1" height="4" fill="#fff"/>
<rect x="393" y="31" width="17" height="1" fill="#000"/>
<rect x="418" y="31" width="24" height="1" fill="#000"/>
<rect x="450" y="31" width="24" height="1" fill="#000"/>
<rect x="482" y="31" width="24" height="1" fill="#000"/>
<rect x="514" y="31" width="24" height="1" fill="#000"/>
<rect x="546" y="31" width="24" height="1" fill="#000"/>
<rect x="578" y="31" width="24" height="1" fill="#000"/>
<rect x="610" y="31" width="9" height="1" fill="#000"/>
<rect x="402" y="134" width="24" height="1" fill="#000"/>
<rect x="434" y="134" width="24" height="1" fill="#000"/>
<rect x="466" y="134" width="24" height="1" fill="#000"/>
<rect x="498" y="134" width="24" height="1" fill="#000"/>
<rect x="530" y="134" width="24" height="1" fill="#000"/>
<rect x="562" y="134" width="24" height="1" fill="#000"/>
<rect x="594" y="134" width="25" height="1" fill="#000"/>
<rect x="393" y="31" width="1" height="16" fill="#000"/>
<rect x="393" y="55" width="1" height="24" fill="#000"/>
<rect x="393" y="87" width="1" height="24" fill="#000"/>
<rect x="393" y="119" width="1" height="16" fill="#000"/>
<rect x="618" y="31" width="1" height="24" fill="#000"/>
<rect x="618" y="63" width="1" height="24" fill="#000"/>
<rect x="618" y="95" width="1" height="24" fill="#000"/>
<rect x="618" y="127" width="1" height="8" fill="#000"/>
<rect x="395" y="40" width="90" height="14" fill="#000"/>
<rect x="396" y="41" width="88" height="12" fill="#fff"/>
<rect x="397" y="42" width="5" height="4" fill="#000"/>
<rect x="397" y="48" width="5" height="4" fill="#000"/>
<rect x="403" y="42" width="4" height="4" fill="#000"/>
<rect x="403" y="48" width="4" height="4" fill="#000"/>
<rect x="409" y="42" width="4" height="4" fill="#000"/>
<rect x="409" y="48" width="4" height="4" fill="#000"/>
<rect x="415" y="42" width="4" height="4" fill="#000"/>
<rect x="415" y="48" width="4" height="4" fill="#000"/>
<rect x="420" y="42" width="5" height="4" fill="#000"/>
<rect x="420" y="48" width="5" height="4" fill="#000"/>
<rect x="426" y="42" width="5" height="4" fill="#000"/>
<rect x="426" y="48" width="5" height="4" fill="#000"/>
<rect x="432" y="42" width="4" height="4" fill="#000"/>
<rect x="432" y="48" width="4" height="4" fill="#000"/>
<rect x="438" y="42" width="4" height="4" fill="#000"/>
<rect x="438" y="48" width="4" height="4" fill="#000"/>
<rect x="444" y="42" width="4" height="4" fill="#000"/>
<rect x="444" y="48" width="4" height="4" fill="#000"/>
<rect x="450" y="42" width="4" height="4" fill="#000"/>
<rect x="450" y="48" width="4" height="4" fill="#000"/>
<rect x="455" y="42" width="5" height="4" fill="#000"/>
<rect x="455" y="48" width="5" height="4" fill="#000"/>
<rect x="461" y="42" width="5" height="4" fill="#000"/>
<rect x="461" y="48" width="5" height="4" fill="#000"/>
<rect x="467" y="42" width="4" height="4" fill="#000"/>
<rect x="467" y="48" width="4" height="4" fill="#000"/>
<rect x="473" y="42" width="5" height="4" fill="#000"/>
<rect x="473" y="48" width="5" height="4" fill="#000"/>
<rect x="479" y="42" width="4" height="4" fill="#000"/>
<rect x="479" y="48" width="4" height="4" fill="#000"/>
<rect x="398" y="49" width="3" height="2" fill="#fff"/>
<rect x="525" y="33" width="90" height="13" fill="#000"/>
<rect x="526" y="34" width="88" height="11" fill="#fff"/>
<rect x="527" y="35" width="5" height="4" fill="#000"/>
<rect x="527" y="40" width="5" height="6" fill="#000"/>
<rect x="533" y="35" width="4" height="4" fill="#000"/>
<rect x="533" y="40" width="4" height="6" fill="#000"/>
<rect x="539" y="35" width="4" height="4" fill="#000"/>
<rect x="539" y="40" width="4" height="6" fill="#000"/>
<rect x="545" y="35" width="4" height="4" fill="#000"/>
<rect x="545" y="40" width="4" height="6" fill="#000"/>
<rect x="550" y="35" width="5" height="4" fill="#000"/>
<rect x="550" y="40" width="5" height="6" fill="#000"/>
<rect x="556" y="35" width="5" height="4" fill="#000"/>
<rect x="556" y="40" width="5" height="6" fill="#000"/>
<rect x="562" y="35" width="4" height="4" fill="#000"/>
<rect x="562" y="40" width="4" height="6" fill="#000"/>
<rect x="568" y="35" width="4" height="4" fill="#000"/>
<rect x="568" y="40" width="4" height="6" fill="#000"/>
<rect x="574" y="35" width="4" height="4" fill="#000"/>
<rect x="574" y="40" width="4" height="6" fill="#000"/>
<rect x="580" y="35" width="4" height="4" fill="#000"/>
<rect x="580" y="40" width="4" height="6" fill="#000"/>
<rect x="585" y="35" width="5" height="4" fill="#000"/>
<rect x="585" y="40" width="5" height="6" fill="#000"/>
<rect x="591" y="35" width="5" height="4" fill="#000"/>
<rect x="591" y="40" width="5" height="6" fill="#000"/>
<rect x="597" y="35" width="4" height="4" fill="#000"/>
<rect x="597" y="40" width="4" height="6" fill="#000"/>
<rect x="603" y="35" width="5" height="4" fill="#000"/>
<rect x="603" y="40" width="5" height="6" fill="#000"/>
<rect x="609" y="35" width="4" height="4" fill="#000"/>
<rect x="609" y="40" width="4" height="6" fill="#000"/>
<rect x="528" y="41" width="3" height="3" fill="#fff"/>
<rect x="395" y="113" width="90" height="13" fill="#000"/>
<rect x="396" y="114" width="88" height="11" fill="#fff"/>
<rect x="397" y="115" width="5" height="4" fill="#000"/>
<rect x="397" y="120" width="5" height="6" fill="#000"/>
<rect x="403" y="115" width="4" height="4" fill="#000"/>
<rect x="403" y="120" width="4" height="6" fill="#000"/>
<rect x="409" y="115" width="4" height="4" fill="#000"/>
<rect x="409" y="120" width="4" height="6" fill="#000"/>
<rect x="415" y="115" width="4" height="4" fill="#000"/>
<rect x="415" y="120" width="4" height="6" fill="#000"/>
<rect x="420" y="115" width="5" height="4" fill="#000"/>
<rect x="420" y="120" width="5" height="6" fill="#000"/>
<rect x="426" y="115" width="5" height="4" fill="#000"/>
<rect x="426" y="120" width="5" height="6" fill="#000"/>
<rect x="432" y="115" width="4" height="4" fill="#000"/>
<rect x="432" y="120" width="4" height="6" fill="#000"/>
<rect x="438" y="115" width="4" height="4" fill="#000"/>
<rect x="438" y="120" width="4" height="6" fill="#000"/>
<rect x="444" y="115" width="4" height="4" fill="#000"/>
<rect x="444" y="120" width="4" height="6" fill="#000"/>
<rect x="450" y="115" width="4" height="4" fill="#000"/>
<rect x="450" y="120" width="4" height="6" fill="#000"/>
<rect x="455" y="115" width="5" height="4" fill="#000"/>
<rect x="455" y="120" width="5" height="6" fill="#000"/>
<rect x="461" y="115" width="5" height="4" fill="#000"/>
<rect x="461" y="120" width="5" height="6" fill="#000"/>
<rect x="467" y="115" width="4" height="4" fill="#000"/>
<rect x="467" y="120" width="4" height="6" fill="#000"/>
<rect x="473" y="115" width="5" height="4" fill="#000"/>
<rect x="473" y="120" width="5" height="6" fill="#000"/>
<rect x="479" y="115" width="4" height="4" fill="#000"/>
<rect x="479" y="120" width="4" height="6" fill="#000"/>
<rect x="398" y="121" width="3" height="3" fill="#fff"/>
<rect x="525" y="120" width="90" height="14" fill="#000"/>
<rect x="526" y="121" width="88" height="12" fill="#fff"/>
<rect x="527" y="120" width="5" height="6" fill="#000"/>
<rect x="527" y="127" width="5" height="4" fill="#000"/>
<rect x="533" y="120" width="4" height="6" fill="#000"/>
<rect x="533" y="127" width="4" height="4" fill="#000"/>
<rect x="539" y="120" width="4" height="6" fill="#000"/>
<rect x="539" y="127" width="4" height="4" fill="#000"/>
<rect x="545" y="120" width="4" height="6" fill="#000"/>
<rect x="545" y="127" width="4" height="4" fill="#000"/>
<rect x="550" y="120" width="5" height="6" fill="#000"/>
<rect x="550" y="127" width="5" height="4" fill="#000"/>
<rect x="556" y="120" width="5" height="6" fill="#000"/>
<rect x="556" y="127" width="5" height="4" fill="#000"/>
<rect x="562" y="120" width="4" height="6" fill="#000"/>
<rect x="562" y="127" width="4" height="4" fill="#000"/>
<rect x="568" y="120" width="4" height="6" fill="#000"/>
<rect x="568" y="127" width="4" height="4" fill="#000"/>
<rect x="574" y="120" width="4" height="6" fill="#000"/>
<rect x="574" y="127" width="4" height="4" fill="#000"/>
<rect x="580" y="120" width="4" height="6" fill="#000"/>
<rect x="580" y="127" width="4" height="4" fill="#000"/>
<rect x="585" y="120" width="5" height="6" fill="#000"/>
<rect x="585" y="127" width="5" height="4" fill="#000"/>
<rect x="591" y="120" width="5" height="6" fill="#000"/>
<rect x="591" y="127" width="5" height="4" fill="#000"/>
<rect x="597" y="120" width="4" height="6" fill="#000"/>
<rect x="597" y="127" width="4" height="4" fill="#000"/>
<rect x="603" y="120" width="5" height="6" fill="#000"/>
<rect x="603" y="127" width="5" height="4" fill="#000"/>
<rect x="609" y="120" width="4" height="6" fill="#000"/>
<rect x="609" y="127" width="4" height="4" fill="#000"/>
<rect x="528" y="128" width="2" height="2" fill="#fff"/>
<rect x="356" y="70" width="22" height="1" fill="#000"/>
<rect x="356" y="88" width="22" height="1" fill="#000"/>
<rect x="355" y="71" width="24" height="1" fill="#000"/>
<rect x="355" y="87" width="24" height="1" fill="#000"/>
<rect x="354" y="72" width="26" height="15" fill="#000"/>
<rect x="357" y="72" width="20" height="1" fill="#fff"/>
<rect x="357" y="85" width="20" height="1" fill="#fff"/>
<rect x="356" y="73" width="22" height="12" fill="#fff"/>
<rect x="380" y="76" width="3" height="1" fill="#000"/>
<rect x="380" y="77" width="11" height="1" fill="#000"/>
<rect x="377" y="78" width="9" height="2" fill="#fff"/>
<rect x="386" y="78" width="6" height="2" fill="#000"/>
<rect x="392" y="79" width="3" height="1" fill="#000"/>
<rect x="380" y="80" width="11" height="1" fill="#000"/>
<rect x="380" y="81" width="4" height="1" fill="#000"/>
<g filter="url(#bw)"><text transform="translate(0,83) scale(0.8,1)" x="448.50 456.94" y="0" font-family="'Liberation Mono', monospace" font-size="15.2" fill="#000" xml:space="preserve">P4</text></g>
<rect x="344" y="123" width="24" height="19" fill="#000"/>
<rect x="345" y="124" width="22" height="17" fill="#fff"/>
<rect x="349" y="127" width="7" height="11" fill="#000"/>
<rect x="351" y="128" width="4" height="9" fill="#fff"/>
<rect x="358" y="127" width="5" height="11" fill="#000"/>
<rect x="345" y="124" width="5" height="4" fill="#000"/>
<rect x="345" y="124" width="3" height="3" fill="#fff"/>
<rect x="338" y="158" width="34" height="18" fill="#000"/>
<rect x="338" y="158" width="1" height="2" fill="#fff"/>
<rect x="338" y="174" width="1" height="2" fill="#fff"/>
<rect x="341" y="160" width="29" height="14" fill="#fff"/>
<rect x="353" y="142" width="3" height="6" fill="#000"/>
<rect x="352" y="147" width="5" height="8" fill="#000"/>
<rect x="351" y="154" width="7" height="6" fill="#000"/>
<rect x="354" y="151" width="1" height="5" fill="#fff"/>
<rect x="353" y="155" width="3" height="5" fill="#fff"/>
<g filter="url(#bw)"><text transform="translate(0,171) scale(0.8,1)" x="426.02 438.69 451.01" y="0" font-family="'Liberation Mono', monospace" font-size="15.2" fill="#000" xml:space="preserve">SW1</text></g>
<g filter="url(#bw)"><text transform="translate(0,163) scale(0.88,1)" x="695.90 705.56 714.65 722.61 729.26 737.27" y="0" font-family="'Liberation Mono', monospace" font-size="13.66" fill="#000" xml:space="preserve">MH2810</text></g>
<rect x="588" y="190" width="78" height="13" fill="#000"/>
<rect x="589" y="196" width="76" height="1" fill="#fff"/>
<rect x="594" y="191" width="1" height="11" fill="#fff"/>
<rect x="600" y="191" width="1" height="11" fill="#fff"/>
<rect x="605" y="191" width="2" height="11" fill="#fff"/>
<rect x="611" y="191" width="2" height="11" fill="#fff"/>
<rect x="617" y="191" width="2" height="11" fill="#fff"/>
<rect x="623" y="191" width="1" height="11" fill="#fff"/>
<rect x="629" y="191" width="1" height="11" fill="#fff"/>
<rect x="635" y="191" width="1" height="11" fill="#fff"/>
<rect x="640" y="191" width="2" height="11" fill="#fff"/>
<rect x="646" y="191" width="2" height="11" fill="#fff"/>
<rect x="652" y="191" width="1" height="11" fill="#fff"/>
<rect x="658" y="191" width="1" height="11" fill="#fff"/>
<rect x="664" y="191" width="1" height="11" fill="#fff"/>
<rect x="590" y="198" width="3" height="3" fill="#fff"/>
<rect x="607" y="219" width="44" height="1" fill="#000"/>
<rect x="607" y="237" width="44" height="1" fill="#000"/>
<rect x="606" y="220" width="46" height="1" fill="#000"/>
<rect x="606" y="236" width="46" height="1" fill="#000"/>
<rect x="605" y="221" width="48" height="15" fill="#000"/>
<rect x="609" y="221" width="41" height="1" fill="#fff"/>
<rect x="609" y="235" width="41" height="1" fill="#fff"/>
<rect x="608" y="222" width="43" height="13" fill="#fff"/>
<rect x="627" y="203" width="3" height="6" fill="#000"/>
<rect x="626" y="208" width="5" height="8" fill="#000"/>
<rect x="625" y="215" width="7" height="6" fill="#000"/>
<rect x="628" y="212" width="1" height="5" fill="#fff"/>
<rect x="627" y="216" width="3" height="5" fill="#fff"/>
<g filter="url(#bw)"><text transform="translate(0,233) scale(0.8,1)" x="761.31 770.88 778.07 788.51 797.45" y="0" font-family="'Liberation Mono', monospace" font-size="15.2" fill="#000" xml:space="preserve">J1013</text></g>
<rect x="30" y="292" width="132" height="135" fill="#000"/>
<rect x="63" y="324" width="70" height="69" fill="#fff"/>
<rect x="41" y="286" width="22" height="1" fill="#000"/>
<rect x="38" y="287" width="29" height="4" fill="#000"/>
<rect x="39" y="288" width="27" height="2" fill="#fff"/>
<rect x="41" y="291" width="23" height="1" fill="#000"/>
<rect x="49" y="286" width="2" height="1" fill="#fff"/>
<rect x="49" y="291" width="2" height="1" fill="#fff"/>
<rect x="143" y="286" width="22" height="1" fill="#000"/>
<rect x="140" y="287" width="29" height="4" fill="#000"/>
<rect x="141" y="288" width="27" height="2" fill="#fff"/>
<rect x="143" y="291" width="23" height="1" fill="#000"/>
<rect x="157" y="286" width="2" height="1" fill="#fff"/>
<rect x="157" y="291" width="2" height="1" fill="#fff"/>
<rect x="37" y="300" width="2" height="2" fill="#fff"/>
<rect x="42" y="300" width="3" height="2" fill="#fff"/>
<rect x="48" y="300" width="3" height="2" fill="#fff"/>
<rect x="54" y="300" width="3" height="2" fill="#fff"/>
<rect x="60" y="300" width="3" height="2" fill="#fff"/>
<rect x="66" y="300" width="3" height="2" fill="#fff"/>
<rect x="72" y="300" width="3" height="2" fill="#fff"/>
<rect x="78" y="300" width="2" height="2" fill="#fff"/>
<rect x="84" y="300" width="2" height="2" fill="#fff"/>
<rect x="90" y="300" width="2" height="2" fill="#fff"/>
<rect x="96" y="300" width="2" height="2" fill="#fff"/>
<rect x="102" y="300" width="3" height="2" fill="#fff"/>
<rect x="107" y="300" width="3" height="2" fill="#fff"/>
<rect x="113" y="300" width="3" height="2" fill="#fff"/>
<rect x="119" y="300" width="2" height="2" fill="#fff"/>
<rect x="125" y="300" width="2" height="2" fill="#fff"/>
<rect x="131" y="300" width="2" height="2" fill="#fff"/>
<rect x="137" y="300" width="2" height="2" fill="#fff"/>
<rect x="143" y="300" width="3" height="2" fill="#fff"/>
<rect x="149" y="300" width="3" height="2" fill="#fff"/>
<rect x="155" y="300" width="3" height="2" fill="#fff"/>
<rect x="37" y="306" width="2" height="2" fill="#fff"/>
<rect x="42" y="306" width="3" height="2" fill="#fff"/>
<rect x="48" y="306" width="3" height="2" fill="#fff"/>
<rect x="54" y="306" width="3" height="2" fill="#fff"/>
<rect x="60" y="306" width="3" height="2" fill="#fff"/>
<rect x="66" y="306" width="3" height="2" fill="#fff"/>
<rect x="72" y="306" width="3" height="2" fill="#fff"/>
<rect x="78" y="306" width="2" height="2" fill="#fff"/>
<rect x="84" y="306" width="2" height="2" fill="#fff"/>
<rect x="90" y="306" width="2" height="2" fill="#fff"/>
<rect x="96" y="306" width="2" height="2" fill="#fff"/>
<rect x="102" y="306" width="3" height="2" fill="#fff"/>
<rect x="107" y="306" width="3" height="2" fill="#fff"/>
<rect x="113" y="306" width="3" height="2" fill="#fff"/>
<rect x="119" y="306" width="2" height="2" fill="#fff"/>
<rect x="125" y="306" width="2" height="2" fill="#fff"/>
<rect x="131" y="306" width="2" height="2" fill="#fff"/>
<rect x="137" y="306" width="2" height="2" fill="#fff"/>
<rect x="143" y="306" width="3" height="2" fill="#fff"/>
<rect x="149" y="306" width="3" height="2" fill="#fff"/>
<rect x="155" y="306" width="3" height="2" fill="#fff"/>
<rect x="37" y="312" width="2" height="2" fill="#fff"/>
<rect x="42" y="312" width="3" height="2" fill="#fff"/>
<rect x="48" y="312" width="3" height="2" fill="#fff"/>
<rect x="54" y="312" width="3" height="2" fill="#fff"/>
<rect x="60" y="312" width="3" height="2" fill="#fff"/>
<rect x="66" y="312" width="3" height="2" fill="#fff"/>
<rect x="72" y="312" width="3" height="2" fill="#fff"/>
<rect x="78" y="312" width="2" height="2" fill="#fff"/>
<rect x="84" y="312" width="2" height="2" fill="#fff"/>
<rect x="90" y="312" width="2" height="2" fill="#fff"/>
<rect x="96" y="312" width="2" height="2" fill="#fff"/>
<rect x="102" y="312" width="3" height="2" fill="#fff"/>
<rect x="107" y="312" width="3" height="2" fill="#fff"/>
<rect x="113" y="312" width="3" height="2" fill="#fff"/>
<rect x="119" y="312" width="2" height="2" fill="#fff"/>
<rect x="125" y="312" width="2" height="2" fill="#fff"/>
<rect x="131" y="312" width="2" height="2" fill="#fff"/>
<rect x="137" y="312" width="2" height="2" fill="#fff"/>
<rect x="143" y="312" width="3" height="2" fill="#fff"/>
<rect x="149" y="312" width="3" height="2" fill="#fff"/>
<rect x="155" y="312" width="3" height="2" fill="#fff"/>
<rect x="37" y="318" width="2" height="2" fill="#fff"/>
<rect x="42" y="318" width="3" height="2" fill="#fff"/>
<rect x="48" y="318" width="3" height="2" fill="#fff"/>
<rect x="54" y="318" width="3" height="2" fill="#fff"/>
<rect x="60" y="318" width="3" height="2" fill="#fff"/>
<rect x="66" y="318" width="3" height="2" fill="#fff"/>
<rect x="72" y="318" width="3" height="2" fill="#fff"/>
<rect x="78" y="318" width="2" height="2" fill="#fff"/>
<rect x="84" y="318" width="2" height="2" fill="#fff"/>
<rect x="90" y="318" width="2" height="2" fill="#fff"/>
<rect x="96" y="318" width="2" height="2" fill="#fff"/>
<rect x="102" y="318" width="3" height="2" fill="#fff"/>
<rect x="107" y="318" width="3" height="2" fill="#fff"/>
<rect x="113" y="318" width="3" height="2" fill="#fff"/>
<rect x="119" y="318" width="2" height="2" fill="#fff"/>
<rect x="125" y="318" width="2" height="2" fill="#fff"/>
<rect x="131" y="318" width="2" height="2" fill="#fff"/>
<rect x="137" y="318" width="2" height="2" fill="#fff"/>
<rect x="143" y="318" width="3" height="2" fill="#fff"/>
<rect x="149" y="318" width="3" height="2" fill="#fff"/>
<rect x="155" y="318" width="3" height="2" fill="#fff"/>
<rect x="37" y="323" width="2" height="2" fill="#fff"/>
<rect x="42" y="323" width="2" height="2" fill="#fff"/>
<rect x="48" y="323" width="2" height="2" fill="#fff"/>
<rect x="54" y="323" width="2" height="2" fill="#fff"/>
<rect x="137" y="323" width="3" height="2" fill="#fff"/>
<rect x="138" y="322" width="1" height="1" fill="#fff"/>
<rect x="143" y="323" width="3" height="2" fill="#fff"/>
<rect x="144" y="322" width="1" height="1" fill="#fff"/>
<rect x="149" y="323" width="3" height="2" fill="#fff"/>
<rect x="150" y="322" width="1" height="1" fill="#fff"/>
<rect x="155" y="323" width="3" height="2" fill="#fff"/>
<rect x="156" y="322" width="1" height="1" fill="#fff"/>
<rect x="37" y="329" width="2" height="2" fill="#fff"/>
<rect x="42" y="329" width="2" height="2" fill="#fff"/>
<rect x="48" y="329" width="2" height="2" fill="#fff"/>
<rect x="54" y="329" width="2" height="2" fill="#fff"/>
<rect x="137" y="329" width="3" height="2" fill="#fff"/>
<rect x="138" y="328" width="1" height="1" fill="#fff"/>
<rect x="143" y="329" width="3" height="2" fill="#fff"/>
<rect x="144" y="328" width="1" height="1" fill="#fff"/>
<rect x="149" y="329" width="3" height="2" fill="#fff"/>
<rect x="150" y="328" width="1" height="1" fill="#fff"/>
<rect x="155" y="329" width="3" height="2" fill="#fff"/>
<rect x="156" y="328" width="1" height="1" fill="#fff"/>
<rect x="37" y="335" width="2" height="2" fill="#fff"/>
<rect x="42" y="335" width="2" height="2" fill="#fff"/>
<rect x="48" y="335" width="2" height="2" fill="#fff"/>
<rect x="54" y="335" width="2" height="2" fill="#fff"/>
<rect x="137" y="335" width="3" height="2" fill="#fff"/>
<rect x="138" y="334" width="1" height="1" fill="#fff"/>
<rect x="143" y="335" width="3" height="2" fill="#fff"/>
<rect x="144" y="334" width="1" height="1" fill="#fff"/>
<rect x="149" y="335" width="3" height="2" fill="#fff"/>
<rect x="150" y="334" width="1" height="1" fill="#fff"/>
<rect x="155" y="335" width="3" height="2" fill="#fff"/>
<rect x="156" y="334" width="1" height="1" fill="#fff"/>
<rect x="37" y="341" width="2" height="2" fill="#fff"/>
<rect x="42" y="341" width="2" height="2" fill="#fff"/>
<rect x="48" y="341" width="2" height="2" fill="#fff"/>
<rect x="54" y="341" width="2" height="2" fill="#fff"/>
<rect x="137" y="341" width="3" height="1" fill="#fff"/>
<rect x="138" y="340" width="1" height="3" fill="#fff"/>
<rect x="143" y="341" width="3" height="1" fill="#fff"/>
<rect x="144" y="340" width="1" height="3" fill="#fff"/>
<rect x="149" y="341" width="3" height="1" fill="#fff"/>
<rect x="150" y="340" width="1" height="3" fill="#fff"/>
<rect x="155" y="341" width="3" height="1" fill="#fff"/>
<rect x="156" y="340" width="1" height="3" fill="#fff"/>
<rect x="37" y="347" width="2" height="2" fill="#fff"/>
<rect x="42" y="347" width="2" height="2" fill="#fff"/>
<rect x="48" y="347" width="2" height="2" fill="#fff"/>
<rect x="54" y="347" width="2" height="2" fill="#fff"/>
<rect x="137" y="347" width="3" height="1" fill="#fff"/>
<rect x="138" y="346" width="1" height="3" fill="#fff"/>
<rect x="143" y="347" width="3" height="1" fill="#fff"/>
<rect x="144" y="346" width="1" height="3" fill="#fff"/>
<rect x="149" y="347" width="3" height="1" fill="#fff"/>
<rect x="150" y="346" width="1" height="3" fill="#fff"/>
<rect x="155" y="347" width="3" height="1" fill="#fff"/>
<rect x="156" y="346" width="1" height="3" fill="#fff"/>
<rect x="37" y="353" width="2" height="2" fill="#fff"/>
<rect x="42" y="353" width="2" height="2" fill="#fff"/>
<rect x="48" y="353" width="2" height="2" fill="#fff"/>
<rect x="54" y="353" width="2" height="2" fill="#fff"/>
<rect x="137" y="353" width="3" height="1" fill="#fff"/>
<rect x="138" y="352" width="1" height="3" fill="#fff"/>
<rect x="143" y="353" width="3" height="1" fill="#fff"/>
<rect x="144" y="352" width="1" height="3" fill="#fff"/>
<rect x="149" y="353" width="3" height="1" fill="#fff"/>
<rect x="150" y="352" width="1" height="3" fill="#fff"/>
<rect x="155" y="353" width="3" height="1" fill="#fff"/>
<rect x="156" y="352" width="1" height="3" fill="#fff"/>
<rect x="37" y="359" width="2" height="2" fill="#fff"/>
<rect x="42" y="359" width="2" height="2" fill="#fff"/>
<rect x="48" y="359" width="2" height="2" fill="#fff"/>
<rect x="54" y="359" width="2" height="2" fill="#fff"/>
<rect x="137" y="359" width="2" height="2" fill="#fff"/>
<rect x="143" y="359" width="2" height="2" fill="#fff"/>
<rect x="149" y="359" width="2" height="2" fill="#fff"/>
<rect x="155" y="359" width="2" height="2" fill="#fff"/>
<rect x="37" y="365" width="2" height="2" fill="#fff"/>
<rect x="42" y="365" width="2" height="2" fill="#fff"/>
<rect x="48" y="365" width="2" height="2" fill="#fff"/>
<rect x="54" y="365" width="2" height="2" fill="#fff"/>
<rect x="137" y="365" width="2" height="2" fill="#fff"/>
<rect x="143" y="365" width="2" height="2" fill="#fff"/>
<rect x="149" y="365" width="2" height="2" fill="#fff"/>
<rect x="155" y="365" width="2" height="2" fill="#fff"/>
<rect x="37" y="370" width="2" height="2" fill="#fff"/>
<rect x="42" y="370" width="2" height="2" fill="#fff"/>
<rect x="48" y="370" width="2" height="2" fill="#fff"/>
<rect x="54" y="370" width="2" height="2" fill="#fff"/>
<rect x="137" y="370" width="3" height="2" fill="#fff"/>
<rect x="143" y="370" width="3" height="2" fill="#fff"/>
<rect x="149" y="370" width="3" height="2" fill="#fff"/>
<rect x="155" y="370" width="3" height="2" fill="#fff"/>
<rect x="37" y="376" width="2" height="2" fill="#fff"/>
<rect x="42" y="376" width="2" height="2" fill="#fff"/>
<rect x="48" y="376" width="2" height="2" fill="#fff"/>
<rect x="54" y="376" width="2" height="2" fill="#fff"/>
<rect x="137" y="376" width="3" height="2" fill="#fff"/>
<rect x="143" y="376" width="3" height="2" fill="#fff"/>
<rect x="149" y="376" width="3" height="2" fill="#fff"/>
<rect x="155" y="376" width="3" height="2" fill="#fff"/>
<rect x="37" y="382" width="2" height="2" fill="#fff"/>
<rect x="42" y="382" width="2" height="2" fill="#fff"/>
<rect x="48" y="382" width="2" height="2" fill="#fff"/>
<rect x="54" y="382" width="2" height="2" fill="#fff"/>
<rect x="137" y="382" width="2" height="2" fill="#fff"/>
<rect x="143" y="382" width="2" height="2" fill="#fff"/>
<rect x="149" y="382" width="2" height="2" fill="#fff"/>
<rect x="155" y="382" width="2" height="2" fill="#fff"/>
<rect x="37" y="388" width="2" height="2" fill="#fff"/>
<rect x="42" y="388" width="2" height="2" fill="#fff"/>
<rect x="48" y="388" width="2" height="2" fill="#fff"/>
<rect x="54" y="388" width="2" height="2" fill="#fff"/>
<rect x="137" y="388" width="3" height="2" fill="#fff"/>
<rect x="138" y="387" width="1" height="1" fill="#fff"/>
<rect x="143" y="388" width="3" height="2" fill="#fff"/>
<rect x="144" y="387" width="1" height="1" fill="#fff"/>
<rect x="149" y="388" width="3" height="2" fill="#fff"/>
<rect x="150" y="387" width="1" height="1" fill="#fff"/>
<rect x="155" y="388" width="3" height="2" fill="#fff"/>
<rect x="156" y="387" width="1" height="1" fill="#fff"/>
<rect x="37" y="394" width="2" height="2" fill="#fff"/>
<rect x="42" y="394" width="2" height="2" fill="#fff"/>
<rect x="48" y="394" width="2" height="2" fill="#fff"/>
<rect x="54" y="394" width="2" height="2" fill="#fff"/>
<rect x="137" y="394" width="3" height="2" fill="#fff"/>
<rect x="138" y="393" width="1" height="1" fill="#fff"/>
<rect x="143" y="394" width="3" height="2" fill="#fff"/>
<rect x="144" y="393" width="1" height="1" fill="#fff"/>
<rect x="149" y="394" width="3" height="2" fill="#fff"/>
<rect x="150" y="393" width="1" height="1" fill="#fff"/>
<rect x="155" y="394" width="3" height="2" fill="#fff"/>
<rect x="156" y="393" width="1" height="1" fill="#fff"/>
<rect x="37" y="399" width="2" height="3" fill="#fff"/>
<rect x="42" y="399" width="2" height="3" fill="#fff"/>
<rect x="48" y="399" width="2" height="3" fill="#fff"/>
<rect x="54" y="400" width="2" height="2" fill="#fff"/>
<rect x="60" y="400" width="2" height="2" fill="#fff"/>
<rect x="67" y="399" width="2" height="3" fill="#fff"/>
<rect x="66" y="400" width="1" height="1" fill="#fff"/>
<rect x="72" y="399" width="2" height="3" fill="#fff"/>
<rect x="78" y="400" width="2" height="2" fill="#fff"/>
<rect x="85" y="399" width="2" height="3" fill="#fff"/>
<rect x="84" y="400" width="1" height="1" fill="#fff"/>
<rect x="90" y="399" width="2" height="3" fill="#fff"/>
<rect x="97" y="399" width="2" height="3" fill="#fff"/>
<rect x="96" y="400" width="1" height="1" fill="#fff"/>
<rect x="102" y="400" width="2" height="2" fill="#fff"/>
<rect x="107" y="399" width="2" height="3" fill="#fff"/>
<rect x="113" y="399" width="2" height="3" fill="#fff"/>
<rect x="119" y="399" width="2" height="3" fill="#fff"/>
<rect x="125" y="399" width="2" height="3" fill="#fff"/>
<rect x="132" y="399" width="2" height="3" fill="#fff"/>
<rect x="131" y="400" width="1" height="1" fill="#fff"/>
<rect x="137" y="400" width="3" height="2" fill="#fff"/>
<rect x="138" y="399" width="1" height="1" fill="#fff"/>
<rect x="143" y="400" width="3" height="2" fill="#fff"/>
<rect x="144" y="399" width="1" height="1" fill="#fff"/>
<rect x="149" y="400" width="3" height="2" fill="#fff"/>
<rect x="150" y="399" width="1" height="1" fill="#fff"/>
<rect x="155" y="400" width="3" height="2" fill="#fff"/>
<rect x="156" y="399" width="1" height="1" fill="#fff"/>
<rect x="37" y="405" width="2" height="3" fill="#fff"/>
<rect x="42" y="405" width="2" height="3" fill="#fff"/>
<rect x="48" y="405" width="2" height="3" fill="#fff"/>
<rect x="54" y="406" width="2" height="2" fill="#fff"/>
<rect x="60" y="406" width="2" height="2" fill="#fff"/>
<rect x="67" y="405" width="2" height="3" fill="#fff"/>
<rect x="66" y="406" width="1" height="1" fill="#fff"/>
<rect x="72" y="405" width="2" height="3" fill="#fff"/>
<rect x="78" y="406" width="2" height="2" fill="#fff"/>
<rect x="85" y="405" width="2" height="3" fill="#fff"/>
<rect x="84" y="406" width="1" height="1" fill="#fff"/>
<rect x="90" y="405" width="2" height="3" fill="#fff"/>
<rect x="97" y="405" width="2" height="3" fill="#fff"/>
<rect x="96" y="406" width="1" height="1" fill="#fff"/>
<rect x="102" y="406" width="3" height="1" fill="#fff"/>
<rect x="103" y="405" width="1" height="3" fill="#fff"/>
<rect x="107" y="405" width="2" height="3" fill="#fff"/>
<rect x="113" y="405" width="2" height="3" fill="#fff"/>
<rect x="119" y="405" width="2" height="3" fill="#fff"/>
<rect x="125" y="405" width="2" height="3" fill="#fff"/>
<rect x="132" y="405" width="2" height="3" fill="#fff"/>
<rect x="131" y="406" width="1" height="1" fill="#fff"/>
<rect x="137" y="406" width="3" height="1" fill="#fff"/>
<rect x="138" y="405" width="1" height="3" fill="#fff"/>
<rect x="143" y="406" width="3" height="1" fill="#fff"/>
<rect x="144" y="405" width="1" height="3" fill="#fff"/>
<rect x="149" y="406" width="3" height="1" fill="#fff"/>
<rect x="150" y="405" width="1" height="3" fill="#fff"/>
<rect x="155" y="406" width="3" height="1" fill="#fff"/>
<rect x="156" y="405" width="1" height="3" fill="#fff"/>
<rect x="37" y="411" width="2" height="3" fill="#fff"/>
<rect x="42" y="411" width="2" height="3" fill="#fff"/>
<rect x="48" y="411" width="2" height="3" fill="#fff"/>
<rect x="54" y="412" width="2" height="2" fill="#fff"/>
<rect x="60" y="412" width="2" height="2" fill="#fff"/>
<rect x="67" y="411" width="2" height="3" fill="#fff"/>
<rect x="66" y="412" width="1" height="1" fill="#fff"/>
<rect x="72" y="411" width="2" height="3" fill="#fff"/>
<rect x="78" y="412" width="2" height="2" fill="#fff"/>
<rect x="85" y="411" width="2" height="3" fill="#fff"/>
<rect x="84" y="412" width="1" height="1" fill="#fff"/>
<rect x="90" y="411" width="2" height="3" fill="#fff"/>
<rect x="97" y="411" width="2" height="3" fill="#fff"/>
<rect x="96" y="412" width="1" height="1" fill="#fff"/>
<rect x="102" y="412" width="3" height="1" fill="#fff"/>
<rect x="103" y="411" width="1" height="3" fill="#fff"/>
<rect x="107" y="411" width="2" height="3" fill="#fff"/>
<rect x="113" y="411" width="2" height="3" fill="#fff"/>
<rect x="119" y="411" width="2" height="3" fill="#fff"/>
<rect x="125" y="411" width="2" height="3" fill="#fff"/>
<rect x="132" y="411" width="2" height="3" fill="#fff"/>
<rect x="131" y="412" width="1" height="1" fill="#fff"/>
<rect x="137" y="412" width="3" height="1" fill="#fff"/>
<rect x="138" y="411" width="1" height="3" fill="#fff"/>
<rect x="143" y="412" width="3" height="1" fill="#fff"/>
<rect x="144" y="411" width="1" height="3" fill="#fff"/>
<rect x="149" y="412" width="3" height="1" fill="#fff"/>
<rect x="150" y="411" width="1" height="3" fill="#fff"/>
<rect x="155" y="412" width="3" height="1" fill="#fff"/>
<rect x="156" y="411" width="1" height="3" fill="#fff"/>
<rect x="37" y="416" width="2" height="3" fill="#fff"/>
<rect x="42" y="416" width="2" height="3" fill="#fff"/>
<rect x="48" y="416" width="2" height="3" fill="#fff"/>
<rect x="54" y="417" width="2" height="2" fill="#fff"/>
<rect x="60" y="417" width="2" height="2" fill="#fff"/>
<rect x="67" y="416" width="2" height="3" fill="#fff"/>
<rect x="66" y="417" width="1" height="1" fill="#fff"/>
<rect x="72" y="416" width="2" height="3" fill="#fff"/>
<rect x="78" y="417" width="2" height="2" fill="#fff"/>
<rect x="85" y="416" width="2" height="3" fill="#fff"/>
<rect x="84" y="417" width="1" height="1" fill="#fff"/>
<rect x="90" y="416" width="2" height="3" fill="#fff"/>
<rect x="97" y="416" width="2" height="3" fill="#fff"/>
<rect x="96" y="417" width="1" height="1" fill="#fff"/>
<rect x="102" y="417" width="3" height="1" fill="#fff"/>
<rect x="103" y="416" width="1" height="3" fill="#fff"/>
<rect x="107" y="416" width="2" height="3" fill="#fff"/>
<rect x="113" y="416" width="2" height="3" fill="#fff"/>
<rect x="119" y="416" width="2" height="3" fill="#fff"/>
<rect x="125" y="416" width="2" height="3" fill="#fff"/>
<rect x="132" y="416" width="2" height="3" fill="#fff"/>
<rect x="131" y="417" width="1" height="1" fill="#fff"/>
<rect x="137" y="417" width="3" height="1" fill="#fff"/>
<rect x="138" y="416" width="1" height="3" fill="#fff"/>
<rect x="143" y="417" width="3" height="1" fill="#fff"/>
<rect x="144" y="416" width="1" height="3" fill="#fff"/>
<rect x="149" y="417" width="3" height="1" fill="#fff"/>
<rect x="150" y="416" width="1" height="3" fill="#fff"/>
<rect x="155" y="417" width="3" height="1" fill="#fff"/>
<rect x="156" y="416" width="1" height="3" fill="#fff"/>
<rect x="163" y="292" width="2" height="130" fill="#000"/>
<rect x="166" y="292" width="17" height="130" fill="#000"/>
<rect x="184" y="292" width="2" height="130" fill="#000"/>
<rect x="168" y="337" width="7" height="33" fill="#fff"/>
<rect x="176" y="337" width="4" height="32" fill="#fff"/>
<g filter="url(#bw)"><text transform="translate(180,340) rotate(-90) scale(0.8,1)" x="11.07 26.94 43.32" y="0" font-family="'Liberation Sans', sans-serif" font-size="17.4" fill="#fff" xml:space="preserve">AMP</text></g>
<rect x="45" y="422" width="132" height="15" fill="#000"/>
<rect x="49" y="427" width="126" height="8" fill="#fff"/>
<rect x="40" y="427" width="9" height="3" fill="#000"/>
<rect x="42" y="428" width="2" height="2" fill="#fff"/>
<rect x="43" y="430" width="6" height="3" fill="#000"/>
<rect x="30" y="427" width="10" height="10" fill="#fff"/>
<rect x="40" y="430" width="3" height="7" fill="#fff"/>
<rect x="43" y="433" width="3" height="4" fill="#fff"/>
<rect x="81" y="348" width="32" height="1" fill="#000"/>
<rect x="81" y="368" width="32" height="1" fill="#000"/>
<rect x="80" y="349" width="34" height="1" fill="#000"/>
<rect x="80" y="367" width="34" height="1" fill="#000"/>
<rect x="79" y="350" width="36" height="17" fill="#000"/>
<rect x="83" y="350" width="29" height="1" fill="#fff"/>
<rect x="83" y="365" width="29" height="1" fill="#fff"/>
<rect x="82" y="351" width="31" height="14" fill="#fff"/>
<g filter="url(#bw)"><text transform="translate(0,362) scale(0.8,1)" x="102.84 115.87 127.95" y="0" font-family="'Liberation Mono', monospace" font-size="15.2" fill="#000" xml:space="preserve">CPU</text></g>
<rect x="669" y="345" width="22" height="1" fill="#000"/>
<rect x="669" y="363" width="22" height="1" fill="#000"/>
<rect x="668" y="346" width="24" height="1" fill="#000"/>
<rect x="668" y="362" width="24" height="1" fill="#000"/>
<rect x="667" y="347" width="26" height="15" fill="#000"/>
<rect x="671" y="347" width="18" height="1" fill="#fff"/>
<rect x="671" y="360" width="18" height="1" fill="#fff"/>
<rect x="670" y="348" width="20" height="12" fill="#fff"/>
<polygon points="692,360 693.6,360 700,367 700,371.6 698.5,371.6 688.6,364.4 688.6,362" fill="#000"/>
<polygon points="689,361 690.6,361 695.4,365.6 694.2,366.4 689,362.2" fill="#fff"/>
<g filter="url(#bw)"><text transform="translate(0,358) scale(0.8,1)" x="840.25 850.45" y="0" font-family="'Liberation Mono', monospace" font-size="15.2" fill="#000" xml:space="preserve">P3</text></g>
<rect x="699" y="365" width="7" height="26" fill="#000"/>
<rect x="700" y="366" width="5" height="24" fill="#fff"/>
<rect x="700" y="367" width="4" height="5" fill="#000"/>
<rect x="701" y="368" width="2" height="3" fill="#fff"/>
<rect x="700" y="373" width="4" height="3" fill="#000"/>
<rect x="700" y="379" width="4" height="4" fill="#000"/>
<rect x="700" y="385" width="4" height="4" fill="#000"/>
<rect x="644" y="371" width="22" height="1" fill="#000"/>
<rect x="644" y="389" width="22" height="1" fill="#000"/>
<rect x="643" y="372" width="24" height="1" fill="#000"/>
<rect x="643" y="388" width="24" height="1" fill="#000"/>
<rect x="642" y="373" width="26" height="15" fill="#000"/>
<rect x="646" y="374" width="19" height="1" fill="#fff"/>
<rect x="646" y="387" width="19" height="1" fill="#fff"/>
<rect x="645" y="375" width="21" height="12" fill="#fff"/>
<rect x="668" y="377" width="3" height="1" fill="#000"/>
<rect x="668" y="378" width="11" height="1" fill="#000"/>
<rect x="665" y="379" width="9" height="2" fill="#fff"/>
<rect x="674" y="379" width="6" height="2" fill="#000"/>
<rect x="680" y="380" width="2" height="1" fill="#000"/>
<rect x="668" y="381" width="11" height="1" fill="#000"/>
<rect x="668" y="382" width="4" height="1" fill="#000"/>
<g filter="url(#bw)"><text transform="translate(0,385) scale(0.8,1)" x="809.11 817.45" y="0" font-family="'Liberation Mono', monospace" font-size="15.2" fill="#000" xml:space="preserve">E5</text></g>
<rect x="682" y="372" width="7" height="19" fill="#000"/>
<rect x="683" y="373" width="1" height="17" fill="#fff"/>
<rect x="684" y="374" width="4" height="4" fill="#fff"/>
<rect x="685" y="375" width="2" height="2" fill="#000"/>
<rect x="683" y="378" width="5" height="1" fill="#fff"/>
<rect x="683" y="384" width="5" height="1" fill="#fff"/>
<rect x="773" y="14" width="19" height="7" fill="#000"/>
<rect x="774" y="15" width="17" height="5" fill="#fff"/>
<rect x="775" y="11" width="7" height="11" fill="#000"/>
<rect x="781" y="23" width="17" height="41" fill="#000"/>
<rect x="782" y="24" width="15" height="39" fill="#fff"/>
<rect x="747" y="22" width="35" height="45" fill="#000"/>
<rect x="773" y="68" width="19" height="7" fill="#000"/>
<rect x="774" y="69" width="17" height="5" fill="#fff"/>
<rect x="775" y="67" width="7" height="12" fill="#000"/>
<rect x="759" y="36" width="29" height="1" fill="#000"/>
<rect x="759" y="53" width="29" height="1" fill="#000"/>
<rect x="758" y="37" width="31" height="1" fill="#000"/>
<rect x="758" y="52" width="31" height="1" fill="#000"/>
<rect x="757" y="38" width="33" height="14" fill="#000"/>
<rect x="759" y="38" width="28" height="14" fill="#fff"/>
<g filter="url(#bw)"><text transform="translate(0,49) scale(0.8,1)" x="951.59 964.19 973.51" y="0" font-family="'Liberation Mono', monospace" font-size="15.2" fill="#000" xml:space="preserve">CN1</text></g>
<rect x="735" y="94" width="47" height="40" fill="#000"/>
<rect x="736" y="95" width="45" height="38" fill="#fff"/>
<rect x="768" y="94" width="14" height="40" fill="#000"/>
<rect x="775" y="91" width="7" height="46" fill="#000"/>
<rect x="778" y="89" width="4" height="50" fill="#000"/>
<rect x="739" y="105" width="30" height="1" fill="#000"/>
<rect x="739" y="122" width="30" height="1" fill="#000"/>
<rect x="738" y="106" width="32" height="16" fill="#000"/>
<rect x="769" y="105" width="1" height="18" fill="#000"/>
<rect x="741" y="107" width="28" height="14" fill="#fff"/>
<g filter="url(#bw)"><text transform="translate(0,118) scale(0.8,1)" x="925.34 939.19 948.69" y="0" font-family="'Liberation Mono', monospace" font-size="15.2" fill="#000" xml:space="preserve">CN2</text></g>
<rect x="686" y="91" width="32" height="1" fill="#000"/>
<rect x="686" y="108" width="32" height="1" fill="#000"/>
<rect x="685" y="92" width="34" height="1" fill="#000"/>
<rect x="685" y="107" width="34" height="1" fill="#000"/>
<rect x="684" y="93" width="36" height="14" fill="#000"/>
<rect x="687" y="93" width="30" height="1" fill="#fff"/>
<rect x="687" y="106" width="30" height="1" fill="#fff"/>
<rect x="686" y="94" width="32" height="12" fill="#fff"/>
<rect x="720" y="97" width="3" height="1" fill="#000"/>
<rect x="720" y="98" width="11" height="1" fill="#000"/>
<rect x="717" y="99" width="9" height="2" fill="#fff"/>
<rect x="726" y="99" width="6" height="2" fill="#000"/>
<rect x="732" y="100" width="4" height="1" fill="#000"/>
<rect x="720" y="101" width="11" height="1" fill="#000"/>
<rect x="720" y="102" width="4" height="1" fill="#000"/>
<g filter="url(#bw)"><text transform="translate(0,104) scale(0.8,1)" x="860.34 872.94 884.20" y="0" font-family="'Liberation Mono', monospace" font-size="15.2" fill="#000" xml:space="preserve">CN3</text></g>
<rect x="771" y="148" width="19" height="6" fill="#000"/>
<rect x="772" y="149" width="17" height="4" fill="#fff"/>
<rect x="776" y="146" width="4" height="9" fill="#000"/>
<rect x="781" y="155" width="15" height="80" fill="#000"/>
<rect x="782" y="156" width="13" height="78" fill="#fff"/>
<rect x="795" y="155" width="1" height="1" fill="#fff"/>
<rect x="795" y="234" width="1" height="1" fill="#fff"/>
<rect x="752" y="155" width="28" height="80" fill="#000"/>
<rect x="771" y="237" width="18" height="6" fill="#000"/>
<rect x="772" y="238" width="16" height="4" fill="#fff"/>
<rect x="776" y="235" width="4" height="9" fill="#000"/>
<rect x="780" y="146" width="1" height="98" fill="#fff"/>
<rect x="781" y="140" width="1" height="121" fill="#000"/>
<rect x="759" y="185" width="29" height="1" fill="#000"/>
<rect x="759" y="203" width="29" height="1" fill="#000"/>
<rect x="758" y="186" width="31" height="1" fill="#000"/>
<rect x="758" y="202" width="31" height="1" fill="#000"/>
<rect x="757" y="187" width="33" height="15" fill="#000"/>
<rect x="760" y="188" width="27" height="1" fill="#fff"/>
<rect x="760" y="201" width="27" height="1" fill="#fff"/>
<rect x="759" y="189" width="29" height="12" fill="#fff"/>
<g filter="url(#bw)"><text transform="translate(0,199) scale(0.8,1)" x="950.34 962.94 973.19" y="0" font-family="'Liberation Mono', monospace" font-size="15.2" fill="#000" xml:space="preserve">CN4</text></g>
<rect x="775" y="254" width="7" height="7" fill="#000"/>
<rect x="751" y="260" width="31" height="22" fill="#000"/>
<rect x="782" y="261" width="6" height="22" fill="#000"/>
<rect x="775" y="282" width="7" height="8" fill="#000"/>
<rect x="755" y="265" width="30" height="14" fill="#fff"/>
<g filter="url(#bw)"><text transform="translate(0,276) scale(0.8,1)" x="946.59 959.19 969.45" y="0" font-family="'Liberation Mono', monospace" font-size="15.2" fill="#000" xml:space="preserve">CN5</text></g>
<rect x="771" y="300" width="19" height="6" fill="#000"/>
<rect x="772" y="301" width="17" height="4" fill="#fff"/>
<rect x="775" y="298" width="4" height="12" fill="#000"/>
<rect x="780" y="309" width="15" height="91" fill="#000"/>
<rect x="781" y="310" width="13" height="89" fill="#fff"/>
<rect x="794" y="399" width="1" height="1" fill="#fff"/>
<rect x="751" y="309" width="28" height="91" fill="#000"/>
<rect x="771" y="402" width="19" height="6" fill="#000"/>
<rect x="772" y="403" width="17" height="4" fill="#fff"/>
<rect x="775" y="400" width="4" height="10" fill="#000"/>
<rect x="779" y="299" width="1" height="110" fill="#fff"/>
<rect x="780" y="298" width="1" height="112" fill="#000"/>
<rect x="781" y="310" width="1" height="89" fill="#fff"/>
<rect x="781" y="290" width="1" height="20" fill="#000"/>
<rect x="781" y="399" width="1" height="13" fill="#000"/>
<rect x="775" y="410" width="6" height="2" fill="#fff"/>
<rect x="759" y="345" width="29" height="1" fill="#000"/>
<rect x="759" y="363" width="29" height="1" fill="#000"/>
<rect x="758" y="346" width="31" height="1" fill="#000"/>
<rect x="758" y="362" width="31" height="1" fill="#000"/>
<rect x="757" y="347" width="33" height="15" fill="#000"/>
<rect x="760" y="347" width="27" height="1" fill="#fff"/>
<rect x="760" y="360" width="27" height="1" fill="#fff"/>
<rect x="759" y="348" width="29" height="12" fill="#fff"/>
<g filter="url(#bw)"><text transform="translate(0,359) scale(0.8,1)" x="950.34 962.94 972.87" y="0" font-family="'Liberation Mono', monospace" font-size="15.2" fill="#000" xml:space="preserve">CN6</text></g>
<rect x="773" y="415" width="19" height="6" fill="#000"/>
<rect x="774" y="416" width="17" height="4" fill="#fff"/>
<rect x="775" y="412" width="7" height="12" fill="#000"/>
<rect x="781" y="424" width="17" height="42" fill="#000"/>
<rect x="782" y="425" width="15" height="40" fill="#fff"/>
<rect x="747" y="423" width="35" height="45" fill="#000"/>
<rect x="773" y="469" width="19" height="6" fill="#000"/>
<rect x="774" y="470" width="17" height="4" fill="#fff"/>
<rect x="775" y="468" width="7" height="12" fill="#000"/>
<rect x="758" y="436" width="29" height="1" fill="#000"/>
<rect x="758" y="454" width="29" height="1" fill="#000"/>
<rect x="757" y="437" width="31" height="1" fill="#000"/>
<rect x="757" y="453" width="31" height="1" fill="#000"/>
<rect x="756" y="438" width="33" height="15" fill="#000"/>
<rect x="758" y="439" width="29" height="14" fill="#fff"/>
<g filter="url(#bw)"><text transform="translate(0,450) scale(0.8,1)" x="949.09 961.69 972.95" y="0" font-family="'Liberation Mono', monospace" font-size="15.2" fill="#000" xml:space="preserve">CN7</text></g>
</svg>
</body>
</html>
